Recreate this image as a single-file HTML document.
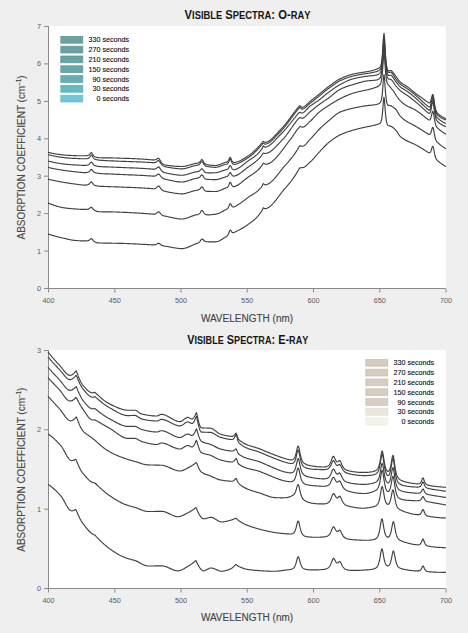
<!DOCTYPE html><html><head><meta charset="utf-8"><style>html,body{margin:0;padding:0;background:#efefef;width:468px;height:633px;overflow:hidden}svg{display:block}text{font-family:"Liberation Sans",sans-serif}</style></head><body>
<svg width="468" height="633" viewBox="0 0 468 633">
<rect width="468" height="633" fill="#efefef"/>
<rect x="48.5" y="26" width="397.5" height="262" fill="#fff"/>
<path d="M48.5,26 V288.5 H445.5" fill="none" stroke="#8a8a8a" stroke-width="1"/>
<path d="M44,288.5 H48.5" stroke="#8a8a8a" stroke-width="1"/>
<text x="41" y="291.0" font-size="7.3" fill="#5a5a5a" text-anchor="end">0</text>
<path d="M44,251.1 H48.5" stroke="#8a8a8a" stroke-width="1"/>
<text x="41" y="253.6" font-size="7.3" fill="#5a5a5a" text-anchor="end">1</text>
<path d="M44,213.6 H48.5" stroke="#8a8a8a" stroke-width="1"/>
<text x="41" y="216.1" font-size="7.3" fill="#5a5a5a" text-anchor="end">2</text>
<path d="M44,176.2 H48.5" stroke="#8a8a8a" stroke-width="1"/>
<text x="41" y="178.7" font-size="7.3" fill="#5a5a5a" text-anchor="end">3</text>
<path d="M44,138.8 H48.5" stroke="#8a8a8a" stroke-width="1"/>
<text x="41" y="141.3" font-size="7.3" fill="#5a5a5a" text-anchor="end">4</text>
<path d="M44,101.4 H48.5" stroke="#8a8a8a" stroke-width="1"/>
<text x="41" y="103.9" font-size="7.3" fill="#5a5a5a" text-anchor="end">5</text>
<path d="M44,63.9 H48.5" stroke="#8a8a8a" stroke-width="1"/>
<text x="41" y="66.4" font-size="7.3" fill="#5a5a5a" text-anchor="end">6</text>
<path d="M44,26.5 H48.5" stroke="#8a8a8a" stroke-width="1"/>
<text x="41" y="29.0" font-size="7.3" fill="#5a5a5a" text-anchor="end">7</text>
<path d="M48.5,288.5 V292.5" stroke="#8a8a8a" stroke-width="1"/>
<text x="48.5" y="302.5" font-size="7.3" fill="#5a5a5a" text-anchor="middle">400</text>
<path d="M114.8,288.5 V292.5" stroke="#8a8a8a" stroke-width="1"/>
<text x="114.8" y="302.5" font-size="7.3" fill="#5a5a5a" text-anchor="middle">450</text>
<path d="M181.0,288.5 V292.5" stroke="#8a8a8a" stroke-width="1"/>
<text x="181.0" y="302.5" font-size="7.3" fill="#5a5a5a" text-anchor="middle">500</text>
<path d="M247.2,288.5 V292.5" stroke="#8a8a8a" stroke-width="1"/>
<text x="247.2" y="302.5" font-size="7.3" fill="#5a5a5a" text-anchor="middle">550</text>
<path d="M313.5,288.5 V292.5" stroke="#8a8a8a" stroke-width="1"/>
<text x="313.5" y="302.5" font-size="7.3" fill="#5a5a5a" text-anchor="middle">600</text>
<path d="M379.8,288.5 V292.5" stroke="#8a8a8a" stroke-width="1"/>
<text x="379.8" y="302.5" font-size="7.3" fill="#5a5a5a" text-anchor="middle">650</text>
<path d="M446.0,288.5 V292.5" stroke="#8a8a8a" stroke-width="1"/>
<text x="446.0" y="302.5" font-size="7.3" fill="#5a5a5a" text-anchor="middle">700</text>
<rect x="60.8" y="36.4" width="22" height="6.8" fill="#6ba1a1" stroke="#5e9292" stroke-width="0.7"/>
<text x="129.2" y="42.4" font-size="7.2" fill="#111" stroke="#111" stroke-width="0.12" text-anchor="end">330 seconds</text>
<rect x="60.8" y="46.2" width="22" height="6.8" fill="#6aa2a3" stroke="#5d9494" stroke-width="0.7"/>
<text x="129.2" y="52.2" font-size="7.2" fill="#111" stroke="#111" stroke-width="0.12" text-anchor="end">270 seconds</text>
<rect x="60.8" y="56.0" width="22" height="6.8" fill="#68a4a5" stroke="#5b9697" stroke-width="0.7"/>
<text x="129.2" y="62.0" font-size="7.2" fill="#111" stroke="#111" stroke-width="0.12" text-anchor="end">210 seconds</text>
<rect x="60.8" y="65.8" width="22" height="6.8" fill="#66a7a9" stroke="#599a9b" stroke-width="0.7"/>
<text x="129.2" y="71.8" font-size="7.2" fill="#111" stroke="#111" stroke-width="0.12" text-anchor="end">150 seconds</text>
<rect x="60.8" y="75.6" width="22" height="6.8" fill="#65aeb3" stroke="#58a0a5" stroke-width="0.7"/>
<text x="129.2" y="81.6" font-size="7.2" fill="#111" stroke="#111" stroke-width="0.12" text-anchor="end">90 seconds</text>
<rect x="60.8" y="85.4" width="22" height="6.8" fill="#67b9c2" stroke="#5aabb3" stroke-width="0.7"/>
<text x="129.2" y="91.4" font-size="7.2" fill="#111" stroke="#111" stroke-width="0.12" text-anchor="end">30 seconds</text>
<rect x="60.8" y="95.2" width="22" height="6.8" fill="#6ec8d8" stroke="#62bac9" stroke-width="0.7"/>
<text x="129.2" y="101.2" font-size="7.2" fill="#111" stroke="#111" stroke-width="0.12" text-anchor="end">0 seconds</text>
<rect x="48.5" y="350" width="397.5" height="238" fill="#fff"/>
<path d="M48.5,350 V588.5 H445.5" fill="none" stroke="#8a8a8a" stroke-width="1"/>
<path d="M44,588.5 H48.5" stroke="#8a8a8a" stroke-width="1"/>
<text x="41" y="591.0" font-size="7.3" fill="#5a5a5a" text-anchor="end">0</text>
<path d="M44,509.2 H48.5" stroke="#8a8a8a" stroke-width="1"/>
<text x="41" y="511.7" font-size="7.3" fill="#5a5a5a" text-anchor="end">1</text>
<path d="M44,429.8 H48.5" stroke="#8a8a8a" stroke-width="1"/>
<text x="41" y="432.3" font-size="7.3" fill="#5a5a5a" text-anchor="end">2</text>
<path d="M44,350.5 H48.5" stroke="#8a8a8a" stroke-width="1"/>
<text x="41" y="353.0" font-size="7.3" fill="#5a5a5a" text-anchor="end">3</text>
<path d="M48.5,588.5 V592.5" stroke="#8a8a8a" stroke-width="1"/>
<text x="48.5" y="602.5" font-size="7.3" fill="#5a5a5a" text-anchor="middle">400</text>
<path d="M114.8,588.5 V592.5" stroke="#8a8a8a" stroke-width="1"/>
<text x="114.8" y="602.5" font-size="7.3" fill="#5a5a5a" text-anchor="middle">450</text>
<path d="M181.0,588.5 V592.5" stroke="#8a8a8a" stroke-width="1"/>
<text x="181.0" y="602.5" font-size="7.3" fill="#5a5a5a" text-anchor="middle">500</text>
<path d="M247.2,588.5 V592.5" stroke="#8a8a8a" stroke-width="1"/>
<text x="247.2" y="602.5" font-size="7.3" fill="#5a5a5a" text-anchor="middle">550</text>
<path d="M313.5,588.5 V592.5" stroke="#8a8a8a" stroke-width="1"/>
<text x="313.5" y="602.5" font-size="7.3" fill="#5a5a5a" text-anchor="middle">600</text>
<path d="M379.8,588.5 V592.5" stroke="#8a8a8a" stroke-width="1"/>
<text x="379.8" y="602.5" font-size="7.3" fill="#5a5a5a" text-anchor="middle">650</text>
<path d="M446.0,588.5 V592.5" stroke="#8a8a8a" stroke-width="1"/>
<text x="446.0" y="602.5" font-size="7.3" fill="#5a5a5a" text-anchor="middle">700</text>
<rect x="365.8" y="359.4" width="22" height="6.8" fill="#d6cbbf" stroke="#cabdb1" stroke-width="0.7"/>
<text x="434.2" y="365.4" font-size="7.2" fill="#111" stroke="#111" stroke-width="0.12" text-anchor="end">330 seconds</text>
<rect x="365.8" y="369.2" width="22" height="6.8" fill="#d6cbbf" stroke="#cabdb1" stroke-width="0.7"/>
<text x="434.2" y="375.2" font-size="7.2" fill="#111" stroke="#111" stroke-width="0.12" text-anchor="end">270 seconds</text>
<rect x="365.8" y="379.0" width="22" height="6.8" fill="#d7ccc0" stroke="#cbbfb3" stroke-width="0.7"/>
<text x="434.2" y="385.0" font-size="7.2" fill="#111" stroke="#111" stroke-width="0.12" text-anchor="end">210 seconds</text>
<rect x="365.8" y="388.8" width="22" height="6.8" fill="#d8cdc1" stroke="#ccc0b4" stroke-width="0.7"/>
<text x="434.2" y="394.8" font-size="7.2" fill="#111" stroke="#111" stroke-width="0.12" text-anchor="end">150 seconds</text>
<rect x="365.8" y="398.6" width="22" height="6.8" fill="#d9cec2" stroke="#cdc1b5" stroke-width="0.7"/>
<text x="434.2" y="404.6" font-size="7.2" fill="#111" stroke="#111" stroke-width="0.12" text-anchor="end">90 seconds</text>
<rect x="365.8" y="408.4" width="22" height="6.8" fill="#ebe7dc" stroke="#e0dccf" stroke-width="0.7"/>
<text x="434.2" y="414.4" font-size="7.2" fill="#111" stroke="#111" stroke-width="0.12" text-anchor="end">30 seconds</text>
<rect x="365.8" y="418.2" width="22" height="6.8" fill="#f4f4ea" stroke="#ebebdf" stroke-width="0.7"/>
<text x="434.2" y="424.2" font-size="7.2" fill="#111" stroke="#111" stroke-width="0.12" text-anchor="end">0 seconds</text>
<text transform="translate(184.6,19.3) scale(0.8985,1)" x="0" y="0" font-weight="bold" fill="#151515"><tspan font-size="12.5">V</tspan><tspan font-size="10.4">I</tspan><tspan font-size="10.4">S</tspan><tspan font-size="10.4">I</tspan><tspan font-size="10.4">B</tspan><tspan font-size="10.4">L</tspan><tspan font-size="10.4">E</tspan><tspan font-size="12.5"> </tspan><tspan font-size="12.5">S</tspan><tspan font-size="10.4">P</tspan><tspan font-size="10.4">E</tspan><tspan font-size="10.4">C</tspan><tspan font-size="10.4">T</tspan><tspan font-size="10.4">R</tspan><tspan font-size="10.4">A</tspan><tspan font-size="12.5">:</tspan><tspan font-size="12.5"> </tspan><tspan font-size="12.5">O</tspan><tspan font-size="12.5">-</tspan><tspan font-size="10.4">R</tspan><tspan font-size="10.4">A</tspan><tspan font-size="10.4">Y</tspan></text>
<text transform="translate(187.2,343.5) scale(0.8741,1)" x="0" y="0" font-weight="bold" fill="#151515"><tspan font-size="12.5">V</tspan><tspan font-size="10.4">I</tspan><tspan font-size="10.4">S</tspan><tspan font-size="10.4">I</tspan><tspan font-size="10.4">B</tspan><tspan font-size="10.4">L</tspan><tspan font-size="10.4">E</tspan><tspan font-size="12.5"> </tspan><tspan font-size="12.5">S</tspan><tspan font-size="10.4">P</tspan><tspan font-size="10.4">E</tspan><tspan font-size="10.4">C</tspan><tspan font-size="10.4">T</tspan><tspan font-size="10.4">R</tspan><tspan font-size="10.4">A</tspan><tspan font-size="12.5">:</tspan><tspan font-size="12.5"> </tspan><tspan font-size="12.5">E</tspan><tspan font-size="12.5">-</tspan><tspan font-size="10.4">R</tspan><tspan font-size="10.4">A</tspan><tspan font-size="10.4">Y</tspan></text>
<text transform="translate(25,157.5) rotate(-90)" font-size="10" fill="#4a4a4a" stroke="#4a4a4a" stroke-width="0.12" text-anchor="middle" textLength="164" lengthAdjust="spacing">ABSORPTION COEFFICIENT (cm<tspan font-size="6.3" dy="-3.6">–1</tspan><tspan dy="3.6">)</tspan></text>
<text transform="translate(25,469.7) rotate(-90)" font-size="10" fill="#4a4a4a" stroke="#4a4a4a" stroke-width="0.12" text-anchor="middle" textLength="164" lengthAdjust="spacing">ABSORPTION COEFFICIENT (cm<tspan font-size="6.3" dy="-3.6">–1</tspan><tspan dy="3.6">)</tspan></text>
<text x="247" y="322" font-size="10" fill="#444" stroke="#444" stroke-width="0.12" text-anchor="middle">WAVELENGTH (nm)</text>
<text x="247" y="621" font-size="10" fill="#444" stroke="#444" stroke-width="0.12" text-anchor="middle">WAVELENGTH (nm)</text>
<g fill="none" stroke="#404040" stroke-width="1.15" stroke-linejoin="round">
<path d="M48.0,152.3L48.5,152.4L49,152.5L49.5,152.6L50,152.8L50.5,152.9L51,153.0L51.5,153.1L52,153.2L52.5,153.3L53,153.4L53.5,153.5L54,153.6L54.5,153.7L55,153.8L55.5,153.9L56,154.0L56.5,154.0L57,154.1L57.5,154.2L58,154.3L58.5,154.4L59,154.4L59.5,154.5L60,154.6L60.5,154.6L61,154.7L61.5,154.8L62,154.8L62.5,154.9L63,154.9L63.5,155.0L64,155.0L64.5,155.0L65,155.1L65.5,155.1L66,155.2L66.5,155.2L67,155.2L67.5,155.3L68,155.3L68.5,155.3L69,155.4L69.5,155.4L70,155.4L70.5,155.4L71,155.5L71.5,155.5L72,155.5L72.5,155.5L73,155.5L73.5,155.6L74,155.6L74.5,155.6L75,155.6L75.5,155.6L76,155.6L76.5,155.6L77,155.7L77.5,155.7L78,155.7L78.5,155.7L79,155.7L79.5,155.7L80,155.7L80.5,155.7L81,155.7L81.5,155.7L82,155.7L82.5,155.7L83,155.7L83.5,155.7L84,155.7L84.5,155.7L85,155.7L85.5,155.7L86,155.7L86.5,155.6L87,155.6L87.5,155.5L88,155.4L88.5,155.2L89,154.9L89.5,154.5L90,153.9L90.5,153.2L91,152.8L91.5,152.7L92,153.2L92.5,154.0L93,154.8L93.5,155.6L94,156.1L94.5,156.5L95,156.8L95.5,157.0L96,157.2L96.5,157.3L97,157.4L97.5,157.5L98,157.6L98.5,157.6L99,157.7L99.5,157.7L100,157.7L100.5,157.7L101,157.7L101.5,157.8L102,157.8L102.5,157.8L103,157.8L103.5,157.8L104,157.8L104.5,157.8L105,157.8L105.5,157.8L106,157.9L106.5,157.9L107,157.9L107.5,157.9L108,157.9L108.5,157.9L109,157.9L109.5,157.9L110,157.9L110.5,157.9L111,157.9L111.5,157.9L112,157.9L112.5,157.9L113,158.0L113.5,158.0L114,158.0L114.5,158.0L115,158.0L115.5,158.0L116,158.0L116.5,158.0L117,158.1L117.5,158.1L118,158.1L118.5,158.1L119,158.1L119.5,158.1L120,158.1L120.5,158.2L121,158.2L121.5,158.2L122,158.2L122.5,158.2L123,158.2L123.5,158.2L124,158.3L124.5,158.3L125,158.3L125.5,158.3L126,158.3L126.5,158.3L127,158.3L127.5,158.4L128,158.4L128.5,158.4L129,158.4L129.5,158.4L130,158.5L130.5,158.5L131,158.5L131.5,158.5L132,158.5L132.5,158.6L133,158.6L133.5,158.6L134,158.6L134.5,158.6L135,158.7L135.5,158.7L136,158.7L136.5,158.7L137,158.8L137.5,158.8L138,158.8L138.5,158.8L139,158.9L139.5,158.9L140,158.9L140.5,159.0L141,159.0L141.5,159.0L142,159.1L142.5,159.1L143,159.1L143.5,159.2L144,159.2L144.5,159.2L145,159.3L145.5,159.3L146,159.3L146.5,159.4L147,159.4L147.5,159.5L148,159.5L148.5,159.5L149,159.6L149.5,159.6L150,159.7L150.5,159.7L151,159.7L151.5,159.8L152,159.8L152.5,159.9L153,159.9L153.5,159.9L154,159.9L154.5,159.9L155,159.8L155.5,159.7L156,159.5L156.5,159.2L157,158.9L157.5,158.6L158,158.3L158.5,158.3L159,158.6L159.5,159.2L160,160.0L160.5,160.9L161,161.7L161.5,162.5L162,163.1L162.5,163.6L163,164.0L163.5,164.3L164,164.6L164.5,164.8L165,164.9L165.5,165.0L166,165.1L166.5,165.2L167,165.3L167.5,165.4L168,165.4L168.5,165.5L169,165.6L169.5,165.6L170,165.7L170.5,165.8L171,165.8L171.5,165.9L172,165.9L172.5,166.0L173,166.0L173.5,166.1L174,166.1L174.5,166.2L175,166.2L175.5,166.3L176,166.3L176.5,166.3L177,166.4L177.5,166.4L178,166.4L178.5,166.4L179,166.4L179.5,166.5L180,166.5L180.5,166.5L181,166.5L181.5,166.5L182,166.5L182.5,166.5L183,166.5L183.5,166.4L184,166.4L184.5,166.3L185,166.2L185.5,166.1L186,166.0L186.5,165.9L187,165.8L187.5,165.6L188,165.5L188.5,165.3L189,165.2L189.5,165.0L190,164.9L190.5,164.7L191,164.6L191.5,164.4L192,164.3L192.5,164.2L193,164.0L193.5,163.9L194,163.8L194.5,163.7L195,163.5L195.5,163.4L196,163.4L196.5,163.3L197,163.2L197.5,163.1L198,163.0L198.5,162.8L199,162.6L199.5,162.2L200,161.6L200.5,161.0L201,160.3L201.5,159.7L202,159.6L202.5,160.0L203,160.7L203.5,161.7L204,162.5L204.5,163.2L205,163.8L205.5,164.1L206,164.4L206.5,164.5L207,164.7L207.5,164.8L208,164.8L208.5,164.9L209,165.0L209.5,165.1L210,165.1L210.5,165.2L211,165.2L211.5,165.3L212,165.3L212.5,165.4L213,165.4L213.5,165.4L214,165.5L214.5,165.5L215,165.5L215.5,165.5L216,165.5L216.5,165.4L217,165.4L217.5,165.3L218,165.1L218.5,165.0L219,164.8L219.5,164.6L220,164.5L220.5,164.2L221,164.0L221.5,163.8L222,163.6L222.5,163.4L223,163.2L223.5,163.0L224,162.8L224.5,162.7L225,162.5L225.5,162.4L226,162.3L226.5,162.1L227,162.0L227.5,161.7L228,161.3L228.5,160.5L229,159.3L229.5,158.2L230,157.4L230.5,157.5L231,158.5L231.5,159.8L232,161.0L232.5,161.7L233,162.2L233.5,162.4L234,162.5L234.5,162.5L235,162.5L235.5,162.4L236,162.3L236.5,162.1L237,162.0L237.5,161.8L238,161.7L238.5,161.5L239,161.2L239.5,161.0L240,160.8L240.5,160.5L241,160.3L241.5,160.0L242,159.7L242.5,159.4L243,159.1L243.5,158.8L244,158.5L244.5,158.2L245,157.9L245.5,157.6L246,157.2L246.5,156.9L247,156.6L247.5,156.3L248,156.0L248.5,155.7L249,155.4L249.5,155.0L250,154.6L250.5,154.3L251,153.9L251.5,153.5L252,153.1L252.5,152.6L253,152.2L253.5,151.7L254,151.3L254.5,150.8L255,150.3L255.5,149.8L256,149.3L256.5,148.8L257,148.3L257.5,147.8L258,147.2L258.5,146.7L259,146.2L259.5,145.6L260,145.1L260.5,144.5L261,143.9L261.5,143.4L262,142.8L262.5,142.1L263,141.5L263.5,141.4L264,141.8L264.5,142.2L265,142.3L265.5,142.3L266,142.2L266.5,142.1L267,141.9L267.5,141.7L268,141.5L268.5,141.2L269,140.9L269.5,140.6L270,140.3L270.5,139.9L271,139.5L271.5,139.0L272,138.6L272.5,138.1L273,137.6L273.5,137.1L274,136.6L274.5,136.0L275,135.5L275.5,135.0L276,134.4L276.5,133.9L277,133.3L277.5,132.8L278,132.3L278.5,131.7L279,131.2L279.5,130.7L280,130.2L280.5,129.7L281,129.2L281.5,128.7L282,128.1L282.5,127.6L283,127.0L283.5,126.4L284,125.8L284.5,125.2L285,124.6L285.5,124.0L286,123.4L286.5,122.7L287,122.1L287.5,121.4L288,120.8L288.5,120.1L289,119.4L289.5,118.8L290,118.1L290.5,117.4L291,116.7L291.5,116.1L292,115.4L292.5,114.7L293,114.0L293.5,113.4L294,112.7L294.5,112.0L295,111.4L295.5,110.7L296,110.1L296.5,109.4L297,108.8L297.5,108.2L298,107.5L298.5,106.9L299,106.3L299.5,105.7L300,105.7L300.5,106.3L301,106.7L301.5,107.1L302,107.3L302.5,107.3L303,107.2L303.5,107.0L304,106.8L304.5,106.5L305,106.1L305.5,105.7L306,105.2L306.5,104.8L307,104.3L307.5,103.8L308,103.3L308.5,102.8L309,102.3L309.5,101.9L310,101.5L310.5,101.1L311,100.7L311.5,100.3L312,99.9L312.5,99.5L313,99.1L313.5,98.7L314,98.3L314.5,97.9L315,97.5L315.5,97.1L316,96.7L316.5,96.3L317,95.9L317.5,95.5L318,95.1L318.5,94.7L319,94.3L319.5,93.9L320,93.5L320.5,93.1L321,92.7L321.5,92.3L322,91.9L322.5,91.5L323,91.0L323.5,90.6L324,90.2L324.5,89.8L325,89.4L325.5,89.0L326,88.6L326.5,88.2L327,87.8L327.5,87.4L328,87.0L328.5,86.7L329,86.3L329.5,85.9L330,85.6L330.5,85.2L331,84.8L331.5,84.5L332,84.1L332.5,83.7L333,83.3L333.5,83.0L334,82.6L334.5,82.3L335,81.9L335.5,81.6L336,81.2L336.5,80.9L337,80.6L337.5,80.3L338,80.0L338.5,79.7L339,79.4L339.5,79.1L340,78.9L340.5,78.7L341,78.4L341.5,78.2L342,78.0L342.5,77.8L343,77.5L343.5,77.3L344,77.1L344.5,76.9L345,76.7L345.5,76.5L346,76.3L346.5,76.1L347,76.0L347.5,75.8L348,75.6L348.5,75.4L349,75.3L349.5,75.1L350,75.0L350.5,74.8L351,74.7L351.5,74.5L352,74.4L352.5,74.3L353,74.1L353.5,74.0L354,73.9L354.5,73.8L355,73.7L355.5,73.6L356,73.5L356.5,73.4L357,73.3L357.5,73.2L358,73.1L358.5,73.0L359,72.9L359.5,72.9L360,72.8L360.5,72.7L361,72.6L361.5,72.5L362,72.4L362.5,72.4L363,72.3L363.5,72.2L364,72.1L364.5,72.1L365,72.0L365.5,71.9L366,71.8L366.5,71.7L367,71.6L367.5,71.6L368,71.5L368.5,71.4L369,71.3L369.5,71.2L370,71.1L370.5,71.0L371,70.9L371.5,70.7L372,70.6L372.5,70.5L373,70.3L373.5,70.2L374,70.0L374.5,69.9L375,69.7L375.5,69.5L376,69.4L376.5,69.2L377,69.0L377.5,68.8L378,68.6L378.5,68.4L379,68.1L379.5,67.7L380,67.2L380.5,66.5L381,65.2L381.5,63.0L382,59.3L382.5,53.5L383,45.6L383.5,37.2L384,33.3L384.5,37.7L385,46.6L385.5,55.0L386,61.2L386.5,65.3L387,67.8L387.5,69.4L388,70.4L388.5,70.9L389,71.0L389.5,70.8L390,70.6L390.5,70.5L391,70.6L391.5,70.9L392,71.3L392.5,71.8L393,72.4L393.5,73.1L394,73.8L394.5,74.5L395,75.2L395.5,75.9L396,76.5L396.5,77.1L397,77.8L397.5,78.5L398,79.2L398.5,80.0L399,80.6L399.5,81.3L400,81.8L400.5,82.3L401,82.7L401.5,83.1L402,83.4L402.5,83.8L403,84.1L403.5,84.4L404,84.7L404.5,85.0L405,85.3L405.5,85.6L406,85.9L406.5,86.2L407,86.5L407.5,86.9L408,87.2L408.5,87.6L409,88.0L409.5,88.4L410,88.8L410.5,89.2L411,89.6L411.5,90.0L412,90.4L412.5,90.8L413,91.3L413.5,91.7L414,92.1L414.5,92.5L415,92.9L415.5,93.3L416,93.7L416.5,94.1L417,94.5L417.5,94.8L418,95.2L418.5,95.6L419,95.9L419.5,96.3L420,96.6L420.5,97.0L421,97.3L421.5,97.7L422,98.0L422.5,98.4L423,98.7L423.5,99.1L424,99.4L424.5,99.8L425,100.2L425.5,100.5L426,100.9L426.5,101.2L427,101.6L427.5,102.0L428,102.3L428.5,102.6L429,102.9L429.5,102.9L430,102.6L430.5,101.8L431,100.3L431.5,98.3L432,96.1L432.5,94.5L433,94.6L433.5,96.7L434,100.0L434.5,103.6L435,106.7L435.5,109.0L436,110.6L436.5,111.7L437,112.4L437.5,113.0L438,113.6L438.5,114.0L439,114.5L439.5,114.9L440,115.3L440.5,115.7L441,116.0L441.5,116.4L442,116.7L442.5,117.0L443,117.3L443.5,117.6L444,117.8L444.5,118.0L445,118.2L445.5,118.4L446,118.5"/>
<path d="M48.0,154.6L48.5,154.7L49,154.9L49.5,155.0L50,155.1L50.5,155.2L51,155.3L51.5,155.4L52,155.6L52.5,155.7L53,155.8L53.5,155.9L54,156.0L54.5,156.1L55,156.2L55.5,156.3L56,156.4L56.5,156.5L57,156.6L57.5,156.7L58,156.8L58.5,156.8L59,156.9L59.5,157.0L60,157.1L60.5,157.2L61,157.2L61.5,157.3L62,157.4L62.5,157.4L63,157.5L63.5,157.5L64,157.6L64.5,157.7L65,157.7L65.5,157.8L66,157.8L66.5,157.8L67,157.9L67.5,157.9L68,158.0L68.5,158.0L69,158.1L69.5,158.1L70,158.1L70.5,158.2L71,158.2L71.5,158.2L72,158.3L72.5,158.3L73,158.3L73.5,158.3L74,158.4L74.5,158.4L75,158.4L75.5,158.4L76,158.5L76.5,158.5L77,158.5L77.5,158.5L78,158.6L78.5,158.6L79,158.6L79.5,158.6L80,158.6L80.5,158.7L81,158.7L81.5,158.7L82,158.7L82.5,158.7L83,158.7L83.5,158.7L84,158.7L84.5,158.7L85,158.7L85.5,158.7L86,158.7L86.5,158.7L87,158.6L87.5,158.5L88,158.4L88.5,158.2L89,157.8L89.5,157.3L90,156.6L90.5,155.8L91,155.2L91.5,155.1L92,155.6L92.5,156.4L93,157.3L93.5,158.0L94,158.6L94.5,159.0L95,159.2L95.5,159.4L96,159.5L96.5,159.7L97,159.8L97.5,159.9L98,160.0L98.5,160.1L99,160.1L99.5,160.2L100,160.2L100.5,160.3L101,160.3L101.5,160.3L102,160.4L102.5,160.4L103,160.4L103.5,160.5L104,160.5L104.5,160.5L105,160.5L105.5,160.6L106,160.6L106.5,160.6L107,160.6L107.5,160.7L108,160.7L108.5,160.7L109,160.7L109.5,160.8L110,160.8L110.5,160.8L111,160.8L111.5,160.8L112,160.9L112.5,160.9L113,160.9L113.5,160.9L114,160.9L114.5,161.0L115,161.0L115.5,161.0L116,161.1L116.5,161.1L117,161.1L117.5,161.1L118,161.1L118.5,161.2L119,161.2L119.5,161.2L120,161.2L120.5,161.2L121,161.3L121.5,161.3L122,161.3L122.5,161.3L123,161.3L123.5,161.4L124,161.4L124.5,161.4L125,161.4L125.5,161.4L126,161.4L126.5,161.5L127,161.5L127.5,161.5L128,161.5L128.5,161.5L129,161.5L129.5,161.6L130,161.6L130.5,161.6L131,161.6L131.5,161.6L132,161.6L132.5,161.6L133,161.7L133.5,161.7L134,161.7L134.5,161.7L135,161.7L135.5,161.7L136,161.8L136.5,161.8L137,161.8L137.5,161.8L138,161.8L138.5,161.9L139,161.9L139.5,161.9L140,161.9L140.5,161.9L141,162.0L141.5,162.0L142,162.0L142.5,162.0L143,162.1L143.5,162.1L144,162.1L144.5,162.1L145,162.2L145.5,162.2L146,162.2L146.5,162.2L147,162.3L147.5,162.3L148,162.3L148.5,162.4L149,162.4L149.5,162.4L150,162.5L150.5,162.5L151,162.5L151.5,162.6L152,162.6L152.5,162.6L153,162.6L153.5,162.6L154,162.6L154.5,162.6L155,162.5L155.5,162.3L156,162.1L156.5,161.8L157,161.4L157.5,161.0L158,160.6L158.5,160.5L159,160.8L159.5,161.3L160,162.1L160.5,162.9L161,163.7L161.5,164.4L162,165.0L162.5,165.4L163,165.8L163.5,166.1L164,166.3L164.5,166.5L165,166.6L165.5,166.7L166,166.9L166.5,167.0L167,167.1L167.5,167.2L168,167.3L168.5,167.3L169,167.4L169.5,167.5L170,167.6L170.5,167.7L171,167.8L171.5,167.9L172,167.9L172.5,168.0L173,168.1L173.5,168.2L174,168.2L174.5,168.3L175,168.4L175.5,168.4L176,168.5L176.5,168.5L177,168.6L177.5,168.6L178,168.6L178.5,168.7L179,168.7L179.5,168.7L180,168.8L180.5,168.8L181,168.8L181.5,168.8L182,168.8L182.5,168.8L183,168.8L183.5,168.7L184,168.6L184.5,168.6L185,168.5L185.5,168.4L186,168.3L186.5,168.1L187,168.0L187.5,167.8L188,167.7L188.5,167.5L189,167.4L189.5,167.2L190,167.0L190.5,166.9L191,166.7L191.5,166.6L192,166.4L192.5,166.2L193,166.1L193.5,166.0L194,165.8L194.5,165.7L195,165.6L195.5,165.5L196,165.4L196.5,165.3L197,165.2L197.5,165.1L198,165.0L198.5,164.8L199,164.6L199.5,164.2L200,163.6L200.5,162.9L201,162.2L201.5,161.7L202,161.5L202.5,161.9L203,162.6L203.5,163.5L204,164.4L204.5,165.1L205,165.6L205.5,165.9L206,166.2L206.5,166.3L207,166.5L207.5,166.5L208,166.6L208.5,166.7L209,166.8L209.5,166.8L210,166.9L210.5,167.0L211,167.0L211.5,167.1L212,167.1L212.5,167.2L213,167.2L213.5,167.2L214,167.3L214.5,167.3L215,167.3L215.5,167.3L216,167.3L216.5,167.2L217,167.2L217.5,167.1L218,167.0L218.5,166.8L219,166.7L219.5,166.5L220,166.3L220.5,166.1L221,165.9L221.5,165.7L222,165.5L222.5,165.3L223,165.2L223.5,165.0L224,164.8L224.5,164.7L225,164.5L225.5,164.4L226,164.3L226.5,164.2L227,164.0L227.5,163.7L228,163.2L228.5,162.4L229,161.2L229.5,159.9L230,159.1L230.5,159.2L231,160.2L231.5,161.6L232,162.7L232.5,163.5L233,164.0L233.5,164.2L234,164.3L234.5,164.3L235,164.3L235.5,164.2L236,164.1L236.5,164.0L237,163.8L237.5,163.7L238,163.5L238.5,163.3L239,163.1L239.5,162.8L240,162.6L240.5,162.3L241,162.1L241.5,161.8L242,161.5L242.5,161.2L243,160.9L243.5,160.6L244,160.3L244.5,160.0L245,159.7L245.5,159.4L246,159.1L246.5,158.7L247,158.4L247.5,158.1L248,157.8L248.5,157.5L249,157.2L249.5,156.8L250,156.4L250.5,156.1L251,155.7L251.5,155.3L252,154.9L252.5,154.4L253,154.0L253.5,153.5L254,153.1L254.5,152.6L255,152.1L255.5,151.6L256,151.1L256.5,150.6L257,150.1L257.5,149.6L258,149.0L258.5,148.5L259,148.0L259.5,147.4L260,146.9L260.5,146.3L261,145.7L261.5,145.2L262,144.6L262.5,143.9L263,143.3L263.5,143.2L264,143.6L264.5,144.0L265,144.1L265.5,144.1L266,144.0L266.5,143.9L267,143.7L267.5,143.5L268,143.3L268.5,143.0L269,142.7L269.5,142.4L270,142.1L270.5,141.7L271,141.3L271.5,140.8L272,140.4L272.5,139.9L273,139.4L273.5,138.9L274,138.4L274.5,137.8L275,137.3L275.5,136.8L276,136.2L276.5,135.7L277,135.1L277.5,134.6L278,134.1L278.5,133.5L279,133.0L279.5,132.5L280,132.0L280.5,131.5L281,131.0L281.5,130.5L282,129.9L282.5,129.4L283,128.8L283.5,128.2L284,127.6L284.5,127.0L285,126.4L285.5,125.8L286,125.2L286.5,124.5L287,123.9L287.5,123.2L288,122.6L288.5,121.9L289,121.2L289.5,120.6L290,119.9L290.5,119.2L291,118.5L291.5,117.9L292,117.2L292.5,116.5L293,115.8L293.5,115.2L294,114.5L294.5,113.8L295,113.2L295.5,112.5L296,111.9L296.5,111.2L297,110.6L297.5,110.0L298,109.3L298.5,108.7L299,108.1L299.5,107.5L300,107.5L300.5,108.1L301,108.5L301.5,108.9L302,109.1L302.5,109.1L303,109.0L303.5,108.8L304,108.6L304.5,108.3L305,107.9L305.5,107.5L306,107.1L306.5,106.6L307,106.1L307.5,105.7L308,105.2L308.5,104.7L309,104.2L309.5,103.8L310,103.4L310.5,103.0L311,102.6L311.5,102.2L312,101.8L312.5,101.5L313,101.1L313.5,100.7L314,100.3L314.5,99.8L315,99.4L315.5,99.0L316,98.6L316.5,98.2L317,97.8L317.5,97.4L318,97.0L318.5,96.6L319,96.2L319.5,95.8L320,95.4L320.5,95.0L321,94.6L321.5,94.2L322,93.8L322.5,93.4L323,92.9L323.5,92.5L324,92.1L324.5,91.7L325,91.3L325.5,90.9L326,90.5L326.5,90.1L327,89.7L327.5,89.3L328,88.9L328.5,88.6L329,88.2L329.5,87.8L330,87.5L330.5,87.1L331,86.7L331.5,86.4L332,86.0L332.5,85.6L333,85.2L333.5,84.9L334,84.5L334.5,84.2L335,83.8L335.5,83.5L336,83.1L336.5,82.8L337,82.5L337.5,82.2L338,81.9L338.5,81.6L339,81.3L339.5,81.0L340,80.8L340.5,80.6L341,80.3L341.5,80.1L342,79.9L342.5,79.7L343,79.4L343.5,79.2L344,79.0L344.5,78.8L345,78.6L345.5,78.4L346,78.2L346.5,78.0L347,77.9L347.5,77.7L348,77.5L348.5,77.3L349,77.2L349.5,77.0L350,76.9L350.5,76.7L351,76.6L351.5,76.4L352,76.3L352.5,76.2L353,76.0L353.5,75.9L354,75.8L354.5,75.7L355,75.6L355.5,75.5L356,75.4L356.5,75.3L357,75.2L357.5,75.1L358,75.0L358.5,74.9L359,74.8L359.5,74.7L360,74.6L360.5,74.5L361,74.4L361.5,74.3L362,74.3L362.5,74.2L363,74.1L363.5,74.0L364,73.9L364.5,73.9L365,73.8L365.5,73.7L366,73.6L366.5,73.5L367,73.5L367.5,73.4L368,73.3L368.5,73.2L369,73.2L369.5,73.1L370,73.0L370.5,72.9L371,72.8L371.5,72.7L372,72.6L372.5,72.5L373,72.4L373.5,72.3L374,72.2L374.5,72.1L375,72.0L375.5,71.8L376,71.7L376.5,71.6L377,71.4L377.5,71.2L378,71.0L378.5,70.8L379,70.5L379.5,70.1L380,69.6L380.5,68.8L381,67.5L381.5,65.3L382,61.6L382.5,55.9L383,48.1L383.5,39.9L384,36.0L384.5,40.2L385,48.8L385.5,57.0L386,63.0L386.5,67.0L387,69.4L387.5,70.9L388,71.9L388.5,72.4L389,72.5L389.5,72.4L390,72.2L390.5,72.2L391,72.3L391.5,72.6L392,73.1L392.5,73.7L393,74.4L393.5,75.2L394,76.0L394.5,76.8L395,77.6L395.5,78.3L396,79.0L396.5,79.6L397,80.3L397.5,80.9L398,81.6L398.5,82.2L399,82.8L399.5,83.3L400,83.8L400.5,84.3L401,84.7L401.5,85.0L402,85.4L402.5,85.7L403,86.1L403.5,86.4L404,86.7L404.5,87.0L405,87.3L405.5,87.6L406,87.9L406.5,88.2L407,88.5L407.5,88.9L408,89.2L408.5,89.6L409,90.0L409.5,90.4L410,90.7L410.5,91.1L411,91.5L411.5,91.9L412,92.3L412.5,92.7L413,93.1L413.5,93.5L414,93.9L414.5,94.3L415,94.8L415.5,95.2L416,95.6L416.5,96.0L417,96.5L417.5,96.9L418,97.3L418.5,97.8L419,98.2L419.5,98.7L420,99.2L420.5,99.6L421,100.1L421.5,100.5L422,101.0L422.5,101.5L423,102.0L423.5,102.4L424,102.9L424.5,103.4L425,103.8L425.5,104.3L426,104.7L426.5,105.2L427,105.6L427.5,106.0L428,106.4L428.5,106.7L429,106.9L429.5,106.9L430,106.5L430.5,105.5L431,103.7L431.5,101.2L432,98.4L432.5,96.4L433,96.1L433.5,98.2L434,101.7L434.5,105.4L435,108.6L435.5,111.0L436,112.6L436.5,113.7L437,114.4L437.5,115.0L438,115.4L438.5,115.8L439,116.2L439.5,116.6L440,116.9L440.5,117.3L441,117.6L441.5,117.9L442,118.2L442.5,118.5L443,118.7L443.5,119.0L444,119.2L444.5,119.4L445,119.6L445.5,119.8L446,120.0"/>
<path d="M48.0,161.0L48.5,161.1L49,161.2L49.5,161.4L50,161.5L50.5,161.6L51,161.7L51.5,161.8L52,161.9L52.5,162.1L53,162.2L53.5,162.3L54,162.4L54.5,162.5L55,162.6L55.5,162.7L56,162.8L56.5,162.9L57,163.0L57.5,163.0L58,163.1L58.5,163.2L59,163.3L59.5,163.4L60,163.5L60.5,163.5L61,163.6L61.5,163.7L62,163.8L62.5,163.8L63,163.9L63.5,163.9L64,164.0L64.5,164.1L65,164.1L65.5,164.2L66,164.2L66.5,164.3L67,164.3L67.5,164.4L68,164.4L68.5,164.5L69,164.5L69.5,164.5L70,164.6L70.5,164.6L71,164.7L71.5,164.7L72,164.7L72.5,164.8L73,164.8L73.5,164.8L74,164.9L74.5,164.9L75,164.9L75.5,164.9L76,165.0L76.5,165.0L77,165.0L77.5,165.1L78,165.1L78.5,165.1L79,165.1L79.5,165.2L80,165.2L80.5,165.2L81,165.2L81.5,165.3L82,165.3L82.5,165.3L83,165.3L83.5,165.3L84,165.3L84.5,165.3L85,165.3L85.5,165.3L86,165.3L86.5,165.2L87,165.2L87.5,165.1L88,165.0L88.5,164.8L89,164.5L89.5,164.0L90,163.4L90.5,162.7L91,162.2L91.5,162.1L92,162.5L92.5,163.2L93,163.9L93.5,164.6L94,165.1L94.5,165.4L95,165.6L95.5,165.8L96,165.9L96.5,166.1L97,166.2L97.5,166.3L98,166.4L98.5,166.4L99,166.5L99.5,166.5L100,166.6L100.5,166.6L101,166.6L101.5,166.7L102,166.7L102.5,166.7L103,166.8L103.5,166.8L104,166.8L104.5,166.8L105,166.8L105.5,166.9L106,166.9L106.5,166.9L107,166.9L107.5,166.9L108,166.9L108.5,167.0L109,167.0L109.5,167.0L110,167.0L110.5,167.0L111,167.0L111.5,167.1L112,167.1L112.5,167.1L113,167.1L113.5,167.1L114,167.2L114.5,167.2L115,167.2L115.5,167.2L116,167.2L116.5,167.3L117,167.3L117.5,167.3L118,167.3L118.5,167.4L119,167.4L119.5,167.4L120,167.4L120.5,167.4L121,167.5L121.5,167.5L122,167.5L122.5,167.5L123,167.5L123.5,167.6L124,167.6L124.5,167.6L125,167.6L125.5,167.6L126,167.7L126.5,167.7L127,167.7L127.5,167.7L128,167.7L128.5,167.7L129,167.8L129.5,167.8L130,167.8L130.5,167.8L131,167.8L131.5,167.9L132,167.9L132.5,167.9L133,167.9L133.5,167.9L134,168.0L134.5,168.0L135,168.0L135.5,168.0L136,168.1L136.5,168.1L137,168.1L137.5,168.1L138,168.1L138.5,168.2L139,168.2L139.5,168.2L140,168.3L140.5,168.3L141,168.3L141.5,168.3L142,168.4L142.5,168.4L143,168.4L143.5,168.5L144,168.5L144.5,168.5L145,168.5L145.5,168.6L146,168.6L146.5,168.7L147,168.7L147.5,168.7L148,168.8L148.5,168.8L149,168.8L149.5,168.9L150,168.9L150.5,168.9L151,169.0L151.5,169.0L152,169.1L152.5,169.1L153,169.1L153.5,169.1L154,169.1L154.5,169.1L155,169.0L155.5,168.8L156,168.6L156.5,168.3L157,167.9L157.5,167.4L158,167.1L158.5,166.9L159,167.1L159.5,167.7L160,168.4L160.5,169.2L161,169.9L161.5,170.6L162,171.1L162.5,171.6L163,171.9L163.5,172.2L164,172.4L164.5,172.6L165,172.7L165.5,172.8L166,173.0L166.5,173.1L167,173.2L167.5,173.3L168,173.4L168.5,173.5L169,173.6L169.5,173.7L170,173.8L170.5,173.9L171,174.0L171.5,174.1L172,174.2L172.5,174.3L173,174.4L173.5,174.4L174,174.5L174.5,174.6L175,174.7L175.5,174.7L176,174.8L176.5,174.9L177,174.9L177.5,175.0L178,175.0L178.5,175.1L179,175.1L179.5,175.1L180,175.2L180.5,175.2L181,175.2L181.5,175.2L182,175.2L182.5,175.2L183,175.2L183.5,175.1L184,175.1L184.5,175.0L185,174.9L185.5,174.8L186,174.7L186.5,174.5L187,174.4L187.5,174.3L188,174.1L188.5,174.0L189,173.8L189.5,173.6L190,173.5L190.5,173.3L191,173.2L191.5,173.0L192,172.8L192.5,172.7L193,172.5L193.5,172.4L194,172.3L194.5,172.1L195,172.0L195.5,171.9L196,171.8L196.5,171.8L197,171.7L197.5,171.6L198,171.5L198.5,171.4L199,171.2L199.5,170.8L200,170.4L200.5,169.8L201,169.3L201.5,168.8L202,168.7L202.5,169.0L203,169.7L203.5,170.5L204,171.2L204.5,171.8L205,172.2L205.5,172.5L206,172.6L206.5,172.7L207,172.7L207.5,172.8L208,172.8L208.5,172.8L209,172.8L209.5,172.8L210,172.8L210.5,172.8L211,172.8L211.5,172.8L212,172.8L212.5,172.8L213,172.8L213.5,172.8L214,172.7L214.5,172.7L215,172.7L215.5,172.7L216,172.7L216.5,172.6L217,172.5L217.5,172.4L218,172.3L218.5,172.2L219,172.0L219.5,171.9L220,171.7L220.5,171.5L221,171.3L221.5,171.1L222,170.9L222.5,170.7L223,170.6L223.5,170.4L224,170.2L224.5,170.1L225,169.9L225.5,169.8L226,169.7L226.5,169.6L227,169.5L227.5,169.3L228,168.9L228.5,168.2L229,167.3L229.5,166.2L230,165.6L230.5,165.7L231,166.5L231.5,167.6L232,168.5L232.5,169.1L233,169.5L233.5,169.7L234,169.7L234.5,169.7L235,169.6L235.5,169.5L236,169.3L236.5,169.1L237,168.9L237.5,168.7L238,168.4L238.5,168.1L239,167.8L239.5,167.5L240,167.2L240.5,166.8L241,166.5L241.5,166.1L242,165.7L242.5,165.3L243,164.9L243.5,164.5L244,164.1L244.5,163.7L245,163.3L245.5,162.9L246,162.5L246.5,162.1L247,161.7L247.5,161.4L248,161.0L248.5,160.6L249,160.3L249.5,160.0L250,159.6L250.5,159.3L251,159.0L251.5,158.7L252,158.3L252.5,158.0L253,157.7L253.5,157.3L254,157.0L254.5,156.6L255,156.2L255.5,155.8L256,155.4L256.5,155.0L257,154.6L257.5,154.1L258,153.6L258.5,153.1L259,152.5L259.5,152.0L260,151.4L260.5,150.7L261,150.1L261.5,149.4L262,148.7L262.5,147.7L263,146.3L263.5,146.0L264,146.5L264.5,146.9L265,147.1L265.5,147.1L266,147.0L266.5,146.9L267,146.7L267.5,146.5L268,146.3L268.5,146.0L269,145.7L269.5,145.4L270,145.0L270.5,144.6L271,144.2L271.5,143.8L272,143.3L272.5,142.8L273,142.3L273.5,141.8L274,141.3L274.5,140.8L275,140.3L275.5,139.7L276,139.2L276.5,138.6L277,138.1L277.5,137.6L278,137.0L278.5,136.5L279,136.0L279.5,135.5L280,135.0L280.5,134.5L281,134.0L281.5,133.5L282,133.0L282.5,132.5L283,132.0L283.5,131.4L284,130.9L284.5,130.3L285,129.7L285.5,129.2L286,128.6L286.5,128.0L287,127.4L287.5,126.8L288,126.2L288.5,125.6L289,125.0L289.5,124.4L290,123.8L290.5,123.1L291,122.5L291.5,121.9L292,121.3L292.5,120.6L293,120.0L293.5,119.4L294,118.7L294.5,118.1L295,117.5L295.5,116.9L296,116.2L296.5,115.6L297,115.0L297.5,114.4L298,113.7L298.5,113.1L299,112.5L299.5,112.4L300,112.6L300.5,112.8L301,112.9L301.5,113.0L302,113.0L302.5,112.9L303,112.7L303.5,112.5L304,112.1L304.5,111.7L305,111.3L305.5,110.8L306,110.3L306.5,109.7L307,109.2L307.5,108.6L308,108.1L308.5,107.6L309,107.1L309.5,106.6L310,106.2L310.5,105.8L311,105.5L311.5,105.1L312,104.7L312.5,104.4L313,104.1L313.5,103.7L314,103.4L314.5,103.1L315,102.7L315.5,102.4L316,102.0L316.5,101.7L317,101.4L317.5,101.0L318,100.7L318.5,100.3L319,100.0L319.5,99.6L320,99.2L320.5,98.8L321,98.4L321.5,98.0L322,97.6L322.5,97.2L323,96.8L323.5,96.4L324,96.0L324.5,95.6L325,95.2L325.5,94.7L326,94.3L326.5,93.9L327,93.5L327.5,93.1L328,92.7L328.5,92.4L329,92.0L329.5,91.6L330,91.3L330.5,90.9L331,90.5L331.5,90.2L332,89.8L332.5,89.5L333,89.1L333.5,88.7L334,88.4L334.5,88.0L335,87.7L335.5,87.4L336,87.0L336.5,86.7L337,86.4L337.5,86.1L338,85.8L338.5,85.5L339,85.2L339.5,84.9L340,84.6L340.5,84.3L341,84.1L341.5,83.8L342,83.6L342.5,83.3L343,83.0L343.5,82.8L344,82.5L344.5,82.3L345,82.0L345.5,81.8L346,81.5L346.5,81.3L347,81.1L347.5,80.8L348,80.6L348.5,80.4L349,80.2L349.5,80.0L350,79.8L350.5,79.6L351,79.5L351.5,79.3L352,79.1L352.5,79.0L353,78.9L353.5,78.7L354,78.6L354.5,78.5L355,78.4L355.5,78.3L356,78.1L356.5,78.0L357,77.9L357.5,77.8L358,77.7L358.5,77.6L359,77.5L359.5,77.4L360,77.3L360.5,77.2L361,77.1L361.5,77.0L362,76.9L362.5,76.8L363,76.8L363.5,76.7L364,76.6L364.5,76.5L365,76.5L365.5,76.4L366,76.3L366.5,76.3L367,76.2L367.5,76.1L368,76.1L368.5,76.0L369,76.0L369.5,75.9L370,75.9L370.5,75.9L371,75.8L371.5,75.8L372,75.7L372.5,75.7L373,75.6L373.5,75.5L374,75.5L374.5,75.4L375,75.3L375.5,75.2L376,75.1L376.5,75.0L377,74.9L377.5,74.7L378,74.5L378.5,74.3L379,74.0L379.5,73.6L380,73.1L380.5,72.3L381,71.0L381.5,68.8L382,65.2L382.5,59.6L383,51.9L383.5,43.8L384,40.0L384.5,44.1L385,52.5L385.5,60.4L386,66.3L386.5,70.1L387,72.5L387.5,73.9L388,74.9L388.5,75.4L389,75.5L389.5,75.4L390,75.2L390.5,75.2L391,75.3L391.5,75.6L392,76.1L392.5,76.6L393,77.3L393.5,78.1L394,78.8L394.5,79.6L395,80.4L395.5,81.2L396,81.8L396.5,82.4L397,83.1L397.5,83.7L398,84.3L398.5,85.0L399,85.6L399.5,86.1L400,86.6L400.5,87.1L401,87.5L401.5,87.8L402,88.2L402.5,88.5L403,88.8L403.5,89.1L404,89.4L404.5,89.7L405,90.0L405.5,90.3L406,90.6L406.5,90.9L407,91.2L407.5,91.6L408,91.9L408.5,92.3L409,92.7L409.5,93.1L410,93.4L410.5,93.8L411,94.2L411.5,94.6L412,95.0L412.5,95.4L413,95.9L413.5,96.3L414,96.7L414.5,97.1L415,97.5L415.5,98.0L416,98.4L416.5,98.8L417,99.3L417.5,99.7L418,100.2L418.5,100.7L419,101.1L419.5,101.6L420,102.1L420.5,102.6L421,103.0L421.5,103.5L422,104.0L422.5,104.5L423,105.0L423.5,105.5L424,105.9L424.5,106.4L425,106.9L425.5,107.4L426,107.8L426.5,108.3L427,108.7L427.5,109.2L428,109.5L428.5,109.9L429,110.1L429.5,110.1L430,109.6L430.5,108.5L431,106.6L431.5,104.0L432,101.1L432.5,98.9L433,98.6L433.5,100.8L434,104.3L434.5,108.2L435,111.4L435.5,113.9L436,115.6L436.5,116.7L437,117.4L437.5,118.0L438,118.5L438.5,118.9L439,119.3L439.5,119.7L440,120.1L440.5,120.4L441,120.8L441.5,121.1L442,121.4L442.5,121.7L443,122.0L443.5,122.3L444,122.6L444.5,122.8L445,123.1L445.5,123.3L446,123.5"/>
<path d="M48.0,167.4L48.5,167.5L49,167.6L49.5,167.7L50,167.8L50.5,168.0L51,168.1L51.5,168.2L52,168.3L52.5,168.4L53,168.5L53.5,168.6L54,168.7L54.5,168.8L55,168.9L55.5,169.0L56,169.1L56.5,169.2L57,169.2L57.5,169.3L58,169.4L58.5,169.5L59,169.6L59.5,169.7L60,169.8L60.5,169.9L61,169.9L61.5,170.0L62,170.1L62.5,170.2L63,170.3L63.5,170.3L64,170.4L64.5,170.5L65,170.5L65.5,170.6L66,170.7L66.5,170.7L67,170.8L67.5,170.9L68,170.9L68.5,171.0L69,171.1L69.5,171.1L70,171.2L70.5,171.2L71,171.3L71.5,171.4L72,171.4L72.5,171.5L73,171.5L73.5,171.6L74,171.6L74.5,171.7L75,171.7L75.5,171.8L76,171.8L76.5,171.9L77,172.0L77.5,172.0L78,172.1L78.5,172.1L79,172.2L79.5,172.2L80,172.3L80.5,172.4L81,172.4L81.5,172.4L82,172.5L82.5,172.5L83,172.6L83.5,172.6L84,172.6L84.5,172.6L85,172.6L85.5,172.6L86,172.6L86.5,172.5L87,172.4L87.5,172.3L88,172.2L88.5,172.0L89,171.7L89.5,171.3L90,170.7L90.5,170.0L91,169.5L91.5,169.4L92,169.8L92.5,170.4L93,171.1L93.5,171.7L94,172.1L94.5,172.4L95,172.6L95.5,172.7L96,172.9L96.5,173.0L97,173.1L97.5,173.2L98,173.3L98.5,173.4L99,173.4L99.5,173.4L100,173.5L100.5,173.5L101,173.6L101.5,173.6L102,173.6L102.5,173.7L103,173.7L103.5,173.7L104,173.7L104.5,173.8L105,173.8L105.5,173.8L106,173.8L106.5,173.8L107,173.9L107.5,173.9L108,173.9L108.5,173.9L109,173.9L109.5,174.0L110,174.0L110.5,174.0L111,174.0L111.5,174.0L112,174.1L112.5,174.1L113,174.1L113.5,174.1L114,174.1L114.5,174.2L115,174.2L115.5,174.2L116,174.3L116.5,174.3L117,174.3L117.5,174.3L118,174.3L118.5,174.4L119,174.4L119.5,174.4L120,174.4L120.5,174.5L121,174.5L121.5,174.5L122,174.5L122.5,174.5L123,174.6L123.5,174.6L124,174.6L124.5,174.6L125,174.6L125.5,174.7L126,174.7L126.5,174.7L127,174.7L127.5,174.7L128,174.8L128.5,174.8L129,174.8L129.5,174.8L130,174.8L130.5,174.9L131,174.9L131.5,174.9L132,174.9L132.5,174.9L133,175.0L133.5,175.0L134,175.0L134.5,175.0L135,175.0L135.5,175.1L136,175.1L136.5,175.1L137,175.1L137.5,175.2L138,175.2L138.5,175.2L139,175.2L139.5,175.3L140,175.3L140.5,175.3L141,175.3L141.5,175.4L142,175.4L142.5,175.4L143,175.4L143.5,175.5L144,175.5L144.5,175.5L145,175.6L145.5,175.6L146,175.6L146.5,175.7L147,175.7L147.5,175.7L148,175.8L148.5,175.8L149,175.8L149.5,175.9L150,175.9L150.5,175.9L151,176.0L151.5,176.0L152,176.0L152.5,176.1L153,176.1L153.5,176.1L154,176.1L154.5,176.1L155,176.0L155.5,175.8L156,175.6L156.5,175.3L157,174.9L157.5,174.5L158,174.1L158.5,174.0L159,174.1L159.5,174.6L160,175.2L160.5,176.0L161,176.6L161.5,177.2L162,177.7L162.5,178.1L163,178.4L163.5,178.6L164,178.8L164.5,179.0L165,179.1L165.5,179.2L166,179.4L166.5,179.5L167,179.6L167.5,179.7L168,179.8L168.5,180.0L169,180.1L169.5,180.2L170,180.3L170.5,180.4L171,180.5L171.5,180.6L172,180.7L172.5,180.8L173,180.9L173.5,181.0L174,181.1L174.5,181.2L175,181.3L175.5,181.4L176,181.5L176.5,181.6L177,181.6L177.5,181.7L178,181.8L178.5,181.8L179,181.9L179.5,181.9L180,181.9L180.5,182.0L181,182.0L181.5,182.0L182,182.0L182.5,182.0L183,182.0L183.5,181.9L184,181.8L184.5,181.8L185,181.7L185.5,181.5L186,181.4L186.5,181.3L187,181.1L187.5,181.0L188,180.8L188.5,180.7L189,180.5L189.5,180.3L190,180.1L190.5,180.0L191,179.8L191.5,179.6L192,179.4L192.5,179.3L193,179.1L193.5,179.0L194,178.8L194.5,178.7L195,178.6L195.5,178.5L196,178.4L196.5,178.3L197,178.2L197.5,178.1L198,178.0L198.5,177.9L199,177.6L199.5,177.3L200,176.8L200.5,176.2L201,175.5L201.5,175.0L202,174.9L202.5,175.2L203,175.9L203.5,176.8L204,177.6L204.5,178.2L205,178.7L205.5,179.0L206,179.1L206.5,179.2L207,179.3L207.5,179.4L208,179.4L208.5,179.4L209,179.5L209.5,179.5L210,179.5L210.5,179.5L211,179.5L211.5,179.5L212,179.6L212.5,179.6L213,179.6L213.5,179.6L214,179.6L214.5,179.6L215,179.6L215.5,179.6L216,179.6L216.5,179.6L217,179.5L217.5,179.4L218,179.3L218.5,179.2L219,179.1L219.5,178.9L220,178.8L220.5,178.6L221,178.4L221.5,178.2L222,178.1L222.5,177.9L223,177.7L223.5,177.5L224,177.4L224.5,177.2L225,177.1L225.5,176.9L226,176.8L226.5,176.7L227,176.5L227.5,176.2L228,175.8L228.5,175.1L229,174.2L229.5,173.2L230,172.5L230.5,172.5L231,173.3L231.5,174.3L232,175.1L232.5,175.7L233,176.0L233.5,176.1L234,176.1L234.5,176.0L235,175.9L235.5,175.8L236,175.6L236.5,175.4L237,175.1L237.5,174.9L238,174.6L238.5,174.3L239,174.0L239.5,173.7L240,173.3L240.5,173.0L241,172.6L241.5,172.3L242,171.9L242.5,171.5L243,171.1L243.5,170.7L244,170.3L244.5,169.9L245,169.5L245.5,169.1L246,168.7L246.5,168.3L247,167.9L247.5,167.6L248,167.2L248.5,166.8L249,166.5L249.5,166.1L250,165.8L250.5,165.4L251,165.1L251.5,164.7L252,164.4L252.5,164.0L253,163.7L253.5,163.3L254,162.9L254.5,162.6L255,162.2L255.5,161.8L256,161.4L256.5,160.9L257,160.5L257.5,160.0L258,159.6L258.5,159.1L259,158.6L259.5,158.0L260,157.5L260.5,156.9L261,156.3L261.5,155.7L262,155.0L262.5,154.2L263,153.2L263.5,153.0L264,153.2L264.5,153.4L265,153.5L265.5,153.5L266,153.4L266.5,153.3L267,153.2L267.5,153.0L268,152.8L268.5,152.6L269,152.4L269.5,152.1L270,151.8L270.5,151.5L271,151.1L271.5,150.7L272,150.3L272.5,149.9L273,149.5L273.5,149.0L274,148.6L274.5,148.1L275,147.6L275.5,147.1L276,146.6L276.5,146.1L277,145.5L277.5,145.0L278,144.5L278.5,143.9L279,143.4L279.5,142.8L280,142.3L280.5,141.8L281,141.2L281.5,140.7L282,140.2L282.5,139.7L283,139.2L283.5,138.7L284,138.1L284.5,137.5L285,136.9L285.5,136.3L286,135.7L286.5,135.0L287,134.4L287.5,133.7L288,133.0L288.5,132.3L289,131.6L289.5,130.9L290,130.1L290.5,129.4L291,128.7L291.5,128.0L292,127.3L292.5,126.5L293,125.8L293.5,125.1L294,124.4L294.5,123.7L295,123.1L295.5,122.4L296,121.7L296.5,121.1L297,120.5L297.5,119.9L298,119.3L298.5,118.7L299,118.2L299.5,117.6L300,117.6L300.5,117.8L301,118.0L301.5,118.1L302,118.2L302.5,118.2L303,118.1L303.5,117.9L304,117.6L304.5,117.3L305,116.9L305.5,116.4L306,115.9L306.5,115.4L307,114.9L307.5,114.4L308,113.8L308.5,113.3L309,112.8L309.5,112.3L310,111.9L310.5,111.5L311,111.1L311.5,110.7L312,110.3L312.5,109.9L313,109.5L313.5,109.0L314,108.6L314.5,108.2L315,107.8L315.5,107.4L316,107.0L316.5,106.6L317,106.2L317.5,105.8L318,105.4L318.5,105.1L319,104.7L319.5,104.3L320,103.9L320.5,103.6L321,103.2L321.5,102.9L322,102.5L322.5,102.2L323,101.8L323.5,101.5L324,101.1L324.5,100.8L325,100.5L325.5,100.1L326,99.8L326.5,99.4L327,99.1L327.5,98.8L328,98.4L328.5,98.1L329,97.7L329.5,97.3L330,97.0L330.5,96.6L331,96.2L331.5,95.8L332,95.4L332.5,94.9L333,94.5L333.5,94.1L334,93.7L334.5,93.3L335,92.9L335.5,92.5L336,92.1L336.5,91.7L337,91.3L337.5,91.0L338,90.6L338.5,90.3L339,90.0L339.5,89.7L340,89.4L340.5,89.2L341,88.9L341.5,88.7L342,88.4L342.5,88.2L343,88.0L343.5,87.8L344,87.6L344.5,87.4L345,87.2L345.5,87.0L346,86.8L346.5,86.6L347,86.4L347.5,86.3L348,86.1L348.5,85.9L349,85.8L349.5,85.6L350,85.5L350.5,85.3L351,85.2L351.5,85.0L352,84.9L352.5,84.7L353,84.6L353.5,84.4L354,84.3L354.5,84.1L355,84.0L355.5,83.9L356,83.7L356.5,83.5L357,83.4L357.5,83.2L358,83.1L358.5,82.9L359,82.8L359.5,82.6L360,82.5L360.5,82.4L361,82.2L361.5,82.1L362,81.9L362.5,81.8L363,81.7L363.5,81.6L364,81.4L364.5,81.3L365,81.2L365.5,81.1L366,81.0L366.5,81.0L367,80.9L367.5,80.8L368,80.8L368.5,80.7L369,80.7L369.5,80.6L370,80.6L370.5,80.6L371,80.6L371.5,80.5L372,80.5L372.5,80.5L373,80.4L373.5,80.4L374,80.4L374.5,80.3L375,80.2L375.5,80.2L376,80.1L376.5,80.0L377,79.9L377.5,79.7L378,79.5L378.5,79.3L379,78.9L379.5,78.5L380,78.0L380.5,77.1L381,75.8L381.5,73.6L382,69.9L382.5,64.4L383,56.8L383.5,48.8L384,45.0L384.5,48.9L385,56.9L385.5,64.6L386,70.2L386.5,73.9L387,76.1L387.5,77.5L388,78.4L388.5,78.9L389,79.2L389.5,79.3L390,79.4L390.5,79.4L391,79.6L391.5,79.9L392,80.4L392.5,81.0L393,81.7L393.5,82.4L394,83.2L394.5,84.0L395,84.8L395.5,85.5L396,86.1L396.5,86.7L397,87.2L397.5,87.8L398,88.3L398.5,88.9L399,89.4L399.5,89.9L400,90.3L400.5,90.8L401,91.2L401.5,91.5L402,91.9L402.5,92.2L403,92.6L403.5,92.9L404,93.2L404.5,93.6L405,93.9L405.5,94.2L406,94.5L406.5,94.9L407,95.2L407.5,95.6L408,95.9L408.5,96.3L409,96.7L409.5,97.1L410,97.4L410.5,97.8L411,98.2L411.5,98.6L412,99.0L412.5,99.4L413,99.8L413.5,100.2L414,100.6L414.5,101.0L415,101.4L415.5,101.8L416,102.2L416.5,102.6L417,103.0L417.5,103.5L418,103.9L418.5,104.4L419,104.8L419.5,105.2L420,105.7L420.5,106.1L421,106.6L421.5,107.1L422,107.5L422.5,108.0L423,108.4L423.5,108.9L424,109.3L424.5,109.8L425,110.3L425.5,110.7L426,111.1L426.5,111.6L427,112.0L427.5,112.4L428,112.8L428.5,113.1L429,113.3L429.5,113.3L430,112.8L430.5,111.7L431,109.8L431.5,107.1L432,104.2L432.5,102.0L433,101.8L433.5,103.9L434,107.6L434.5,111.5L435,114.9L435.5,117.4L436,119.1L436.5,120.2L437,120.9L437.5,121.5L438,122.0L438.5,122.4L439,122.8L439.5,123.2L440,123.6L440.5,123.9L441,124.2L441.5,124.5L442,124.8L442.5,125.1L443,125.4L443.5,125.7L444,125.9L444.5,126.1L445,126.3L445.5,126.5L446,126.7"/>
<path d="M48.0,179.2L48.5,179.3L49,179.4L49.5,179.5L50,179.7L50.5,179.8L51,179.9L51.5,180.0L52,180.1L52.5,180.2L53,180.3L53.5,180.4L54,180.5L54.5,180.6L55,180.7L55.5,180.8L56,180.9L56.5,181.0L57,181.1L57.5,181.2L58,181.3L58.5,181.4L59,181.5L59.5,181.6L60,181.7L60.5,181.8L61,181.9L61.5,182.0L62,182.1L62.5,182.1L63,182.2L63.5,182.3L64,182.4L64.5,182.5L65,182.6L65.5,182.7L66,182.7L66.5,182.8L67,182.9L67.5,183.0L68,183.1L68.5,183.1L69,183.2L69.5,183.3L70,183.4L70.5,183.4L71,183.5L71.5,183.6L72,183.6L72.5,183.7L73,183.8L73.5,183.8L74,183.9L74.5,184.0L75,184.0L75.5,184.1L76,184.2L76.5,184.2L77,184.3L77.5,184.4L78,184.5L78.5,184.5L79,184.6L79.5,184.7L80,184.7L80.5,184.8L81,184.9L81.5,184.9L82,185.0L82.5,185.0L83,185.0L83.5,185.1L84,185.1L84.5,185.1L85,185.1L85.5,185.1L86,185.1L86.5,185.0L87,184.9L87.5,184.7L88,184.6L88.5,184.4L89,184.1L89.5,183.7L90,183.1L90.5,182.5L91,182.0L91.5,181.9L92,182.3L92.5,183.0L93,183.7L93.5,184.4L94,184.9L94.5,185.2L95,185.4L95.5,185.6L96,185.7L96.5,185.8L97,185.9L97.5,186.0L98,186.1L98.5,186.1L99,186.2L99.5,186.2L100,186.3L100.5,186.3L101,186.3L101.5,186.3L102,186.4L102.5,186.4L103,186.4L103.5,186.4L104,186.5L104.5,186.5L105,186.5L105.5,186.5L106,186.5L106.5,186.5L107,186.5L107.5,186.6L108,186.6L108.5,186.6L109,186.6L109.5,186.6L110,186.6L110.5,186.6L111,186.7L111.5,186.7L112,186.7L112.5,186.7L113,186.7L113.5,186.7L114,186.8L114.5,186.8L115,186.8L115.5,186.8L116,186.8L116.5,186.9L117,186.9L117.5,186.9L118,186.9L118.5,186.9L119,187.0L119.5,187.0L120,187.0L120.5,187.0L121,187.0L121.5,187.1L122,187.1L122.5,187.1L123,187.1L123.5,187.1L124,187.2L124.5,187.2L125,187.2L125.5,187.2L126,187.2L126.5,187.3L127,187.3L127.5,187.3L128,187.3L128.5,187.3L129,187.4L129.5,187.4L130,187.4L130.5,187.4L131,187.4L131.5,187.5L132,187.5L132.5,187.5L133,187.5L133.5,187.5L134,187.6L134.5,187.6L135,187.6L135.5,187.6L136,187.6L136.5,187.7L137,187.7L137.5,187.7L138,187.7L138.5,187.8L139,187.8L139.5,187.8L140,187.8L140.5,187.9L141,187.9L141.5,187.9L142,188.0L142.5,188.0L143,188.0L143.5,188.0L144,188.1L144.5,188.1L145,188.1L145.5,188.2L146,188.2L146.5,188.2L147,188.3L147.5,188.3L148,188.3L148.5,188.4L149,188.4L149.5,188.4L150,188.5L150.5,188.5L151,188.5L151.5,188.6L152,188.6L152.5,188.6L153,188.7L153.5,188.7L154,188.7L154.5,188.6L155,188.5L155.5,188.3L156,188.0L156.5,187.6L157,187.1L157.5,186.6L158,186.2L158.5,186.0L159,186.1L159.5,186.6L160,187.3L160.5,188.1L161,188.8L161.5,189.4L162,190.0L162.5,190.3L163,190.6L163.5,190.9L164,191.1L164.5,191.2L165,191.3L165.5,191.4L166,191.5L166.5,191.7L167,191.8L167.5,191.9L168,192.0L168.5,192.1L169,192.2L169.5,192.3L170,192.4L170.5,192.5L171,192.5L171.5,192.6L172,192.7L172.5,192.8L173,192.9L173.5,193.0L174,193.1L174.5,193.2L175,193.2L175.5,193.3L176,193.4L176.5,193.4L177,193.5L177.5,193.5L178,193.6L178.5,193.6L179,193.7L179.5,193.7L180,193.7L180.5,193.8L181,193.8L181.5,193.8L182,193.8L182.5,193.8L183,193.8L183.5,193.7L184,193.6L184.5,193.6L185,193.5L185.5,193.4L186,193.3L186.5,193.1L187,193.0L187.5,192.8L188,192.7L188.5,192.5L189,192.4L189.5,192.2L190,192.0L190.5,191.9L191,191.7L191.5,191.5L192,191.4L192.5,191.2L193,191.1L193.5,190.9L194,190.8L194.5,190.7L195,190.6L195.5,190.5L196,190.4L196.5,190.3L197,190.2L197.5,190.1L198,190.0L198.5,189.9L199,189.6L199.5,189.3L200,188.8L200.5,188.2L201,187.5L201.5,187.0L202,186.9L202.5,187.2L203,187.9L203.5,188.8L204,189.6L204.5,190.2L205,190.7L205.5,191.0L206,191.1L206.5,191.2L207,191.3L207.5,191.3L208,191.4L208.5,191.4L209,191.4L209.5,191.4L210,191.4L210.5,191.4L211,191.5L211.5,191.5L212,191.5L212.5,191.5L213,191.5L213.5,191.5L214,191.5L214.5,191.5L215,191.5L215.5,191.5L216,191.5L216.5,191.4L217,191.4L217.5,191.3L218,191.2L218.5,191.0L219,190.8L219.5,190.7L220,190.5L220.5,190.3L221,190.1L221.5,189.8L222,189.6L222.5,189.4L223,189.2L223.5,188.9L224,188.7L224.5,188.5L225,188.3L225.5,188.1L226,187.9L226.5,187.7L227,187.5L227.5,187.2L228,186.6L228.5,185.7L229,184.5L229.5,183.2L230,182.3L230.5,182.4L231,183.3L231.5,184.4L232,185.5L232.5,186.2L233,186.5L233.5,186.6L234,186.6L234.5,186.5L235,186.3L235.5,186.1L236,185.9L236.5,185.7L237,185.4L237.5,185.2L238,184.9L238.5,184.6L239,184.2L239.5,183.9L240,183.5L240.5,183.2L241,182.8L241.5,182.4L242,182.0L242.5,181.6L243,181.2L243.5,180.8L244,180.4L244.5,180.0L245,179.6L245.5,179.2L246,178.8L246.5,178.4L247,178.1L247.5,177.7L248,177.3L248.5,176.9L249,176.6L249.5,176.2L250,175.9L250.5,175.6L251,175.2L251.5,174.9L252,174.6L252.5,174.2L253,173.9L253.5,173.5L254,173.2L254.5,172.8L255,172.5L255.5,172.1L256,171.7L256.5,171.3L257,170.9L257.5,170.4L258,170.0L258.5,169.5L259,169.0L259.5,168.5L260,167.9L260.5,167.3L261,166.7L261.5,166.1L262,165.4L262.5,164.6L263,163.5L263.5,163.2L264,163.5L264.5,163.8L265,164.1L265.5,164.2L266,164.2L266.5,164.1L267,164.1L267.5,164.0L268,163.8L268.5,163.6L269,163.4L269.5,163.2L270,162.9L270.5,162.6L271,162.3L271.5,162.0L272,161.6L272.5,161.2L273,160.8L273.5,160.4L274,159.9L274.5,159.4L275,158.9L275.5,158.4L276,157.9L276.5,157.3L277,156.8L277.5,156.2L278,155.6L278.5,155.0L279,154.4L279.5,153.8L280,153.1L280.5,152.5L281,151.8L281.5,151.2L282,150.5L282.5,149.9L283,149.2L283.5,148.5L284,147.8L284.5,147.2L285,146.5L285.5,145.8L286,145.1L286.5,144.5L287,143.8L287.5,143.2L288,142.5L288.5,141.9L289,141.2L289.5,140.6L290,140.0L290.5,139.4L291,138.7L291.5,138.0L292,137.3L292.5,136.6L293,135.8L293.5,135.1L294,134.3L294.5,133.6L295,132.8L295.5,132.1L296,131.4L296.5,130.7L297,130.0L297.5,129.4L298,128.7L298.5,128.1L299,127.6L299.5,127.0L300,126.4L300.5,126.5L301,126.8L301.5,127.0L302,127.1L302.5,127.2L303,127.2L303.5,127.0L304,126.8L304.5,126.6L305,126.2L305.5,125.8L306,125.4L306.5,124.9L307,124.4L307.5,123.9L308,123.4L308.5,122.9L309,122.3L309.5,121.9L310,121.4L310.5,121.0L311,120.5L311.5,120.0L312,119.5L312.5,119.0L313,118.5L313.5,117.9L314,117.4L314.5,116.9L315,116.3L315.5,115.8L316,115.3L316.5,114.7L317,114.2L317.5,113.7L318,113.2L318.5,112.8L319,112.3L319.5,111.9L320,111.5L320.5,111.1L321,110.7L321.5,110.3L322,110.0L322.5,109.6L323,109.2L323.5,108.9L324,108.6L324.5,108.2L325,107.9L325.5,107.6L326,107.2L326.5,106.9L327,106.6L327.5,106.3L328,105.9L328.5,105.6L329,105.3L329.5,105.0L330,104.7L330.5,104.3L331,104.0L331.5,103.7L332,103.4L332.5,103.1L333,102.8L333.5,102.5L334,102.2L334.5,101.9L335,101.6L335.5,101.3L336,101.0L336.5,100.7L337,100.4L337.5,100.1L338,99.9L338.5,99.6L339,99.3L339.5,99.1L340,98.8L340.5,98.6L341,98.3L341.5,98.1L342,97.8L342.5,97.6L343,97.3L343.5,97.1L344,96.8L344.5,96.6L345,96.4L345.5,96.1L346,95.9L346.5,95.7L347,95.5L347.5,95.3L348,95.0L348.5,94.8L349,94.6L349.5,94.4L350,94.2L350.5,94.0L351,93.9L351.5,93.7L352,93.5L352.5,93.3L353,93.2L353.5,93.0L354,92.9L354.5,92.7L355,92.6L355.5,92.5L356,92.3L356.5,92.2L357,92.1L357.5,92.0L358,91.8L358.5,91.7L359,91.6L359.5,91.5L360,91.4L360.5,91.3L361,91.2L361.5,91.1L362,91.0L362.5,90.8L363,90.7L363.5,90.6L364,90.5L364.5,90.4L365,90.3L365.5,90.2L366,90.1L366.5,90.0L367,89.9L367.5,89.8L368,89.7L368.5,89.6L369,89.4L369.5,89.3L370,89.2L370.5,89.1L371,88.9L371.5,88.8L372,88.6L372.5,88.5L373,88.3L373.5,88.1L374,88.0L374.5,87.8L375,87.6L375.5,87.4L376,87.3L376.5,87.1L377,86.9L377.5,86.6L378,86.4L378.5,86.1L379,85.8L379.5,85.3L380,84.7L380.5,83.8L381,82.4L381.5,80.2L382,76.6L382.5,71.1L383,63.6L383.5,55.8L384,52.0L384.5,55.7L385,63.6L385.5,71.0L386,76.4L386.5,80.0L387,82.2L387.5,83.5L388,84.4L388.5,85.0L389,85.6L389.5,86.2L390,86.8L390.5,87.4L391,88.0L391.5,88.7L392,89.3L392.5,89.9L393,90.5L393.5,91.1L394,91.9L394.5,92.7L395,93.5L395.5,94.3L396,95.1L396.5,96.0L397,96.7L397.5,97.5L398,98.1L398.5,98.7L399,99.3L399.5,99.8L400,100.4L400.5,100.9L401,101.4L401.5,101.8L402,102.3L402.5,102.8L403,103.2L403.5,103.6L404,104.0L404.5,104.3L405,104.7L405.5,105.0L406,105.3L406.5,105.6L407,105.9L407.5,106.2L408,106.5L408.5,106.7L409,106.9L409.5,107.2L410,107.4L410.5,107.6L411,107.9L411.5,108.1L412,108.3L412.5,108.5L413,108.8L413.5,109.0L414,109.3L414.5,109.5L415,109.8L415.5,110.1L416,110.4L416.5,110.7L417,111.0L417.5,111.4L418,111.7L418.5,112.1L419,112.4L419.5,112.8L420,113.2L420.5,113.5L421,113.9L421.5,114.3L422,114.7L422.5,115.1L423,115.5L423.5,115.9L424,116.3L424.5,116.7L425,117.1L425.5,117.5L426,117.9L426.5,118.3L427,118.7L427.5,119.1L428,119.4L428.5,119.8L429,120.0L429.5,120.0L430,119.7L430.5,118.9L431,117.4L431.5,115.4L432,113.2L432.5,111.5L433,111.4L433.5,113.2L434,116.2L434.5,119.4L435,122.1L435.5,124.2L436,125.7L436.5,126.7L437,127.4L437.5,128.0L438,128.4L438.5,128.9L439,129.3L439.5,129.7L440,130.2L440.5,130.5L441,130.9L441.5,131.3L442,131.7L442.5,132.0L443,132.3L443.5,132.7L444,133.0L444.5,133.3L445,133.6L445.5,133.9L446,134.2"/>
<path d="M48.0,203.0L48.5,203.2L49,203.4L49.5,203.6L50,203.8L50.5,204.0L51,204.2L51.5,204.4L52,204.6L52.5,204.8L53,204.9L53.5,205.1L54,205.3L54.5,205.5L55,205.6L55.5,205.8L56,205.9L56.5,206.1L57,206.2L57.5,206.4L58,206.5L58.5,206.7L59,206.8L59.5,206.9L60,207.0L60.5,207.1L61,207.3L61.5,207.4L62,207.5L62.5,207.6L63,207.6L63.5,207.7L64,207.8L64.5,207.9L65,207.9L65.5,208.0L66,208.1L66.5,208.1L67,208.2L67.5,208.3L68,208.3L68.5,208.4L69,208.4L69.5,208.5L70,208.5L70.5,208.6L71,208.6L71.5,208.7L72,208.7L72.5,208.7L73,208.8L73.5,208.8L74,208.9L74.5,208.9L75,208.9L75.5,209.0L76,209.0L76.5,209.0L77,209.1L77.5,209.1L78,209.1L78.5,209.2L79,209.2L79.5,209.2L80,209.3L80.5,209.3L81,209.3L81.5,209.3L82,209.4L82.5,209.4L83,209.4L83.5,209.4L84,209.4L84.5,209.4L85,209.4L85.5,209.4L86,209.4L86.5,209.3L87,209.3L87.5,209.2L88,209.1L88.5,208.9L89,208.7L89.5,208.4L90,208.0L90.5,207.6L91,207.3L91.5,207.3L92,207.7L92.5,208.3L93,208.9L93.5,209.5L94,209.9L94.5,210.3L95,210.5L95.5,210.7L96,210.9L96.5,211.2L97,211.4L97.5,211.5L98,211.6L98.5,211.6L99,211.7L99.5,211.7L100,211.7L100.5,211.7L101,211.7L101.5,211.8L102,211.8L102.5,211.8L103,211.8L103.5,211.8L104,211.8L104.5,211.8L105,211.8L105.5,211.8L106,211.9L106.5,211.9L107,211.9L107.5,211.9L108,211.9L108.5,211.9L109,211.9L109.5,211.9L110,211.9L110.5,211.9L111,211.9L111.5,211.9L112,211.9L112.5,211.9L113,212.0L113.5,212.0L114,212.0L114.5,212.0L115,212.0L115.5,212.0L116,212.0L116.5,212.0L117,212.1L117.5,212.1L118,212.1L118.5,212.1L119,212.1L119.5,212.1L120,212.2L120.5,212.2L121,212.2L121.5,212.2L122,212.2L122.5,212.3L123,212.3L123.5,212.3L124,212.3L124.5,212.3L125,212.4L125.5,212.4L126,212.4L126.5,212.4L127,212.4L127.5,212.5L128,212.5L128.5,212.5L129,212.5L129.5,212.6L130,212.6L130.5,212.6L131,212.6L131.5,212.7L132,212.7L132.5,212.7L133,212.7L133.5,212.8L134,212.8L134.5,212.8L135,212.9L135.5,212.9L136,212.9L136.5,212.9L137,213.0L137.5,213.0L138,213.0L138.5,213.1L139,213.1L139.5,213.1L140,213.2L140.5,213.2L141,213.2L141.5,213.3L142,213.3L142.5,213.3L143,213.4L143.5,213.4L144,213.4L144.5,213.5L145,213.5L145.5,213.6L146,213.6L146.5,213.6L147,213.7L147.5,213.7L148,213.7L148.5,213.8L149,213.8L149.5,213.9L150,213.9L150.5,213.9L151,214.0L151.5,214.0L152,214.0L152.5,214.1L153,214.1L153.5,214.1L154,214.1L154.5,214.1L155,214.0L155.5,213.8L156,213.6L156.5,213.3L157,212.8L157.5,212.4L158,212.0L158.5,211.8L159,211.9L159.5,212.3L160,212.9L160.5,213.5L161,214.1L161.5,214.6L162,215.0L162.5,215.3L163,215.6L163.5,215.8L164,215.9L164.5,216.0L165,216.1L165.5,216.2L166,216.3L166.5,216.4L167,216.5L167.5,216.7L168,216.8L168.5,216.9L169,217.0L169.5,217.1L170,217.2L170.5,217.3L171,217.4L171.5,217.5L172,217.6L172.5,217.8L173,217.9L173.5,218.0L174,218.1L174.5,218.2L175,218.3L175.5,218.3L176,218.4L176.5,218.5L177,218.6L177.5,218.7L178,218.7L178.5,218.8L179,218.8L179.5,218.9L180,218.9L180.5,219.0L181,219.0L181.5,219.0L182,219.0L182.5,219.0L183,219.0L183.5,218.9L184,218.8L184.5,218.7L185,218.6L185.5,218.5L186,218.3L186.5,218.2L187,218.0L187.5,217.9L188,217.7L188.5,217.5L189,217.3L189.5,217.1L190,216.9L190.5,216.7L191,216.5L191.5,216.3L192,216.1L192.5,215.9L193,215.8L193.5,215.6L194,215.4L194.5,215.3L195,215.1L195.5,215.0L196,214.9L196.5,214.8L197,214.7L197.5,214.6L198,214.5L198.5,214.3L199,214.0L199.5,213.6L200,213.0L200.5,212.2L201,211.4L201.5,210.7L202,210.5L202.5,210.8L203,211.4L203.5,212.3L204,213.1L204.5,213.7L205,214.2L205.5,214.5L206,214.6L206.5,214.7L207,214.8L207.5,214.8L208,214.8L208.5,214.8L209,214.8L209.5,214.8L210,214.7L210.5,214.7L211,214.7L211.5,214.6L212,214.6L212.5,214.5L213,214.5L213.5,214.4L214,214.4L214.5,214.3L215,214.3L215.5,214.2L216,214.1L216.5,214.0L217,213.9L217.5,213.8L218,213.6L218.5,213.4L219,213.2L219.5,213.0L220,212.7L220.5,212.5L221,212.2L221.5,212.0L222,211.7L222.5,211.4L223,211.1L223.5,210.9L224,210.6L224.5,210.3L225,210.1L225.5,209.8L226,209.6L226.5,209.3L227,209.0L227.5,208.6L228,208.0L228.5,207.1L229,205.9L229.5,204.6L230,203.7L230.5,203.7L231,204.4L231.5,205.4L232,206.3L232.5,206.8L233,207.0L233.5,207.0L234,206.9L234.5,206.7L235,206.5L235.5,206.2L236,206.0L236.5,205.7L237,205.4L237.5,205.1L238,204.8L238.5,204.5L239,204.1L239.5,203.8L240,203.5L240.5,203.1L241,202.7L241.5,202.4L242,202.0L242.5,201.6L243,201.3L243.5,200.9L244,200.5L244.5,200.1L245,199.7L245.5,199.4L246,199.0L246.5,198.6L247,198.2L247.5,197.9L248,197.5L248.5,197.1L249,196.8L249.5,196.5L250,196.1L250.5,195.8L251,195.5L251.5,195.2L252,194.9L252.5,194.6L253,194.3L253.5,194.0L254,193.6L254.5,193.3L255,193.0L255.5,192.6L256,192.2L256.5,191.9L257,191.5L257.5,191.1L258,190.6L258.5,190.2L259,189.7L259.5,189.2L260,188.6L260.5,188.1L261,187.5L261.5,186.9L262,186.0L262.5,185.0L263,183.8L263.5,183.7L264,184.2L264.5,184.6L265,184.8L265.5,184.8L266,184.7L266.5,184.6L267,184.5L267.5,184.3L268,184.1L268.5,183.8L269,183.5L269.5,183.2L270,182.8L270.5,182.4L271,182.0L271.5,181.6L272,181.1L272.5,180.6L273,180.1L273.5,179.6L274,179.1L274.5,178.5L275,177.9L275.5,177.3L276,176.7L276.5,176.1L277,175.5L277.5,174.9L278,174.2L278.5,173.6L279,173.0L279.5,172.3L280,171.7L280.5,171.0L281,170.4L281.5,169.8L282,169.1L282.5,168.5L283,167.9L283.5,167.3L284,166.7L284.5,166.2L285,165.6L285.5,165.1L286,164.5L286.5,163.9L287,163.4L287.5,162.8L288,162.3L288.5,161.7L289,161.1L289.5,160.5L290,159.9L290.5,159.3L291,158.7L291.5,158.1L292,157.4L292.5,156.8L293,156.1L293.5,155.5L294,154.8L294.5,154.1L295,153.4L295.5,152.7L296,151.9L296.5,151.1L297,150.3L297.5,149.5L298,148.6L298.5,147.7L299,146.9L299.5,146.0L300,145.7L300.5,145.9L301,146.1L301.5,146.1L302,146.2L302.5,146.2L303,146.2L303.5,146.0L304,145.8L304.5,145.4L305,145.0L305.5,144.6L306,144.1L306.5,143.5L307,142.9L307.5,142.3L308,141.7L308.5,141.1L309,140.5L309.5,139.9L310,139.4L310.5,138.9L311,138.4L311.5,137.8L312,137.3L312.5,136.7L313,136.2L313.5,135.6L314,135.0L314.5,134.5L315,133.9L315.5,133.3L316,132.8L316.5,132.2L317,131.6L317.5,131.1L318,130.5L318.5,130.0L319,129.5L319.5,129.0L320,128.5L320.5,128.0L321,127.5L321.5,127.1L322,126.6L322.5,126.1L323,125.7L323.5,125.2L324,124.8L324.5,124.3L325,123.9L325.5,123.5L326,123.0L326.5,122.6L327,122.2L327.5,121.7L328,121.3L328.5,120.9L329,120.5L329.5,120.1L330,119.7L330.5,119.2L331,118.8L331.5,118.4L332,117.9L332.5,117.5L333,117.1L333.5,116.6L334,116.2L334.5,115.8L335,115.4L335.5,115.0L336,114.6L336.5,114.2L337,113.9L337.5,113.5L338,113.2L338.5,112.9L339,112.6L339.5,112.3L340,112.1L340.5,111.9L341,111.7L341.5,111.5L342,111.3L342.5,111.1L343,110.9L343.5,110.7L344,110.6L344.5,110.4L345,110.2L345.5,110.1L346,109.9L346.5,109.8L347,109.7L347.5,109.5L348,109.4L348.5,109.3L349,109.1L349.5,109.0L350,108.9L350.5,108.8L351,108.7L351.5,108.6L352,108.4L352.5,108.3L353,108.2L353.5,108.1L354,108.0L354.5,107.9L355,107.8L355.5,107.7L356,107.6L356.5,107.5L357,107.4L357.5,107.3L358,107.2L358.5,107.1L359,107.0L359.5,106.9L360,106.8L360.5,106.7L361,106.6L361.5,106.5L362,106.4L362.5,106.3L363,106.2L363.5,106.1L364,106.1L364.5,106.0L365,105.9L365.5,105.8L366,105.8L366.5,105.7L367,105.6L367.5,105.6L368,105.5L368.5,105.4L369,105.4L369.5,105.3L370,105.3L370.5,105.3L371,105.2L371.5,105.2L372,105.1L372.5,105.1L373,105.0L373.5,104.9L374,104.9L374.5,104.8L375,104.7L375.5,104.7L376,104.6L376.5,104.5L377,104.3L377.5,104.2L378,104.0L378.5,103.8L379,103.6L379.5,103.3L380,102.9L380.5,102.2L381,101.2L381.5,99.4L382,96.3L382.5,91.4L383,84.8L383.5,77.8L384,74.5L384.5,78.1L385,85.5L385.5,92.5L386,97.7L386.5,101.1L387,103.2L387.5,104.4L388,105.1L388.5,105.4L389,105.4L389.5,105.5L390,105.5L390.5,105.7L391,105.9L391.5,106.1L392,106.4L392.5,106.7L393,107.0L393.5,107.4L394,107.8L394.5,108.2L395,108.6L395.5,109.0L396,109.5L396.5,110.1L397,110.9L397.5,111.8L398,112.6L398.5,113.5L399,114.4L399.5,115.2L400,115.9L400.5,116.4L401,116.9L401.5,117.4L402,117.9L402.5,118.4L403,118.8L403.5,119.2L404,119.6L404.5,119.9L405,120.3L405.5,120.6L406,121.0L406.5,121.3L407,121.6L407.5,121.9L408,122.2L408.5,122.5L409,122.7L409.5,123.0L410,123.3L410.5,123.5L411,123.8L411.5,124.1L412,124.3L412.5,124.6L413,124.8L413.5,125.1L414,125.4L414.5,125.6L415,125.9L415.5,126.2L416,126.5L416.5,126.8L417,127.1L417.5,127.4L418,127.7L418.5,128.0L419,128.3L419.5,128.6L420,128.9L420.5,129.2L421,129.5L421.5,129.8L422,130.1L422.5,130.5L423,130.8L423.5,131.1L424,131.4L424.5,131.7L425,132.0L425.5,132.4L426,132.7L426.5,133.0L427,133.3L427.5,133.6L428,133.9L428.5,134.2L429,134.4L429.5,134.4L430,134.2L430.5,133.5L431,132.3L431.5,130.6L432,128.8L432.5,127.4L433,127.4L433.5,129.1L434,131.7L434.5,134.5L435,137.0L435.5,138.9L436,140.2L436.5,141.1L437,141.8L437.5,142.4L438,142.8L438.5,143.3L439,143.7L439.5,144.2L440,144.6L440.5,145.0L441,145.4L441.5,145.7L442,146.1L442.5,146.5L443,146.8L443.5,147.2L444,147.5L444.5,147.9L445,148.2L445.5,148.5L446,148.8"/>
<path d="M48.0,234.0L48.5,234.2L49,234.3L49.5,234.5L50,234.6L50.5,234.8L51,234.9L51.5,235.1L52,235.2L52.5,235.4L53,235.5L53.5,235.6L54,235.8L54.5,235.9L55,236.1L55.5,236.2L56,236.3L56.5,236.5L57,236.6L57.5,236.7L58,236.9L58.5,237.0L59,237.1L59.5,237.2L60,237.4L60.5,237.5L61,237.6L61.5,237.7L62,237.8L62.5,238.0L63,238.1L63.5,238.2L64,238.3L64.5,238.4L65,238.5L65.5,238.6L66,238.8L66.5,238.9L67,239.0L67.5,239.1L68,239.2L68.5,239.4L69,239.5L69.5,239.6L70,239.7L70.5,239.8L71,239.9L71.5,240.0L72,240.1L72.5,240.1L73,240.2L73.5,240.3L74,240.3L74.5,240.4L75,240.4L75.5,240.5L76,240.5L76.5,240.5L77,240.6L77.5,240.6L78,240.7L78.5,240.7L79,240.7L79.5,240.7L80,240.8L80.5,240.8L81,240.8L81.5,240.8L82,240.9L82.5,240.9L83,240.9L83.5,240.9L84,240.9L84.5,240.9L85,240.9L85.5,240.9L86,240.9L86.5,240.8L87,240.8L87.5,240.7L88,240.6L88.5,240.4L89,240.2L89.5,239.9L90,239.4L90.5,239.0L91,238.6L91.5,238.6L92,239.0L92.5,239.7L93,240.4L93.5,241.0L94,241.4L94.5,241.8L95,242.0L95.5,242.2L96,242.4L96.5,242.6L97,242.7L97.5,242.8L98,242.9L98.5,242.9L99,242.9L99.5,243.0L100,243.0L100.5,243.0L101,243.0L101.5,243.0L102,243.0L102.5,243.0L103,243.1L103.5,243.1L104,243.1L104.5,243.1L105,243.1L105.5,243.1L106,243.1L106.5,243.1L107,243.1L107.5,243.1L108,243.1L108.5,243.1L109,243.1L109.5,243.1L110,243.1L110.5,243.1L111,243.1L111.5,243.1L112,243.2L112.5,243.2L113,243.2L113.5,243.2L114,243.2L114.5,243.2L115,243.2L115.5,243.2L116,243.2L116.5,243.2L117,243.2L117.5,243.3L118,243.3L118.5,243.3L119,243.3L119.5,243.3L120,243.3L120.5,243.3L121,243.4L121.5,243.4L122,243.4L122.5,243.4L123,243.4L123.5,243.4L124,243.4L124.5,243.5L125,243.5L125.5,243.5L126,243.5L126.5,243.5L127,243.5L127.5,243.6L128,243.6L128.5,243.6L129,243.6L129.5,243.6L130,243.7L130.5,243.7L131,243.7L131.5,243.7L132,243.7L132.5,243.8L133,243.8L133.5,243.8L134,243.8L134.5,243.9L135,243.9L135.5,243.9L136,243.9L136.5,244.0L137,244.0L137.5,244.0L138,244.0L138.5,244.1L139,244.1L139.5,244.1L140,244.1L140.5,244.2L141,244.2L141.5,244.2L142,244.2L142.5,244.3L143,244.3L143.5,244.3L144,244.4L144.5,244.4L145,244.4L145.5,244.4L146,244.5L146.5,244.5L147,244.5L147.5,244.6L148,244.6L148.5,244.6L149,244.6L149.5,244.7L150,244.7L150.5,244.7L151,244.8L151.5,244.8L152,244.8L152.5,244.8L153,244.9L153.5,244.9L154,244.9L154.5,244.9L155,244.8L155.5,244.7L156,244.5L156.5,244.3L157,244.0L157.5,243.7L158,243.4L158.5,243.3L159,243.4L159.5,243.6L160,244.0L160.5,244.4L161,244.8L161.5,245.1L162,245.4L162.5,245.6L163,245.8L163.5,245.9L164,246.0L164.5,246.1L165,246.2L165.5,246.2L166,246.3L166.5,246.4L167,246.5L167.5,246.5L168,246.6L168.5,246.7L169,246.8L169.5,246.9L170,247.0L170.5,247.1L171,247.2L171.5,247.3L172,247.4L172.5,247.5L173,247.6L173.5,247.7L174,247.7L174.5,247.8L175,247.9L175.5,248.0L176,248.1L176.5,248.2L177,248.2L177.5,248.3L178,248.4L178.5,248.4L179,248.5L179.5,248.5L180,248.5L180.5,248.6L181,248.6L181.5,248.6L182,248.6L182.5,248.6L183,248.6L183.5,248.5L184,248.4L184.5,248.3L185,248.2L185.5,248.1L186,247.9L186.5,247.8L187,247.6L187.5,247.4L188,247.2L188.5,247.0L189,246.8L189.5,246.6L190,246.4L190.5,246.1L191,245.9L191.5,245.7L192,245.5L192.5,245.2L193,245.0L193.5,244.8L194,244.6L194.5,244.3L195,244.1L195.5,243.9L196,243.7L196.5,243.6L197,243.4L197.5,243.2L198,243.0L198.5,242.7L199,242.4L199.5,241.9L200,241.3L200.5,240.6L201,239.9L201.5,239.3L202,239.0L202.5,239.1L203,239.5L203.5,240.0L204,240.5L204.5,241.0L205,241.3L205.5,241.5L206,241.6L206.5,241.7L207,241.7L207.5,241.7L208,241.8L208.5,241.8L209,241.8L209.5,241.8L210,241.8L210.5,241.8L211,241.8L211.5,241.8L212,241.8L212.5,241.8L213,241.8L213.5,241.8L214,241.8L214.5,241.8L215,241.8L215.5,241.8L216,241.8L216.5,241.7L217,241.6L217.5,241.5L218,241.4L218.5,241.2L219,241.0L219.5,240.7L220,240.5L220.5,240.2L221,239.9L221.5,239.6L222,239.3L222.5,239.0L223,238.7L223.5,238.3L224,238.0L224.5,237.7L225,237.4L225.5,237.0L226,236.7L226.5,236.4L227,236.0L227.5,235.5L228,234.8L228.5,233.8L229,232.5L229.5,231.2L230,230.2L230.5,230.0L231,230.6L231.5,231.5L232,232.2L232.5,232.6L233,232.7L233.5,232.6L234,232.5L234.5,232.3L235,232.0L235.5,231.8L236,231.5L236.5,231.3L237,231.0L237.5,230.8L238,230.5L238.5,230.3L239,230.0L239.5,229.7L240,229.5L240.5,229.2L241,228.9L241.5,228.6L242,228.4L242.5,228.1L243,227.8L243.5,227.5L244,227.2L244.5,226.9L245,226.6L245.5,226.2L246,225.9L246.5,225.6L247,225.2L247.5,224.9L248,224.5L248.5,224.1L249,223.8L249.5,223.4L250,223.0L250.5,222.7L251,222.3L251.5,221.9L252,221.6L252.5,221.2L253,220.8L253.5,220.4L254,220.0L254.5,219.5L255,219.1L255.5,218.6L256,218.2L256.5,217.7L257,217.1L257.5,216.6L258,216.0L258.5,215.5L259,214.8L259.5,214.2L260,213.5L260.5,212.8L261,212.1L261.5,211.4L262,210.6L262.5,209.5L263,208.2L263.5,207.8L264,208.2L264.5,208.5L265,208.6L265.5,208.6L266,208.5L266.5,208.4L267,208.2L267.5,208.0L268,207.8L268.5,207.5L269,207.2L269.5,206.8L270,206.4L270.5,206.0L271,205.6L271.5,205.1L272,204.6L272.5,204.1L273,203.6L273.5,203.0L274,202.4L274.5,201.8L275,201.2L275.5,200.6L276,200.0L276.5,199.3L277,198.7L277.5,198.0L278,197.3L278.5,196.7L279,196.0L279.5,195.3L280,194.7L280.5,194.0L281,193.3L281.5,192.7L282,192.0L282.5,191.4L283,190.8L283.5,190.1L284,189.5L284.5,189.0L285,188.4L285.5,187.8L286,187.3L286.5,186.7L287,186.2L287.5,185.6L288,185.0L288.5,184.4L289,183.8L289.5,183.2L290,182.6L290.5,182.0L291,181.3L291.5,180.7L292,180.0L292.5,179.3L293,178.6L293.5,177.9L294,177.2L294.5,176.4L295,175.6L295.5,174.9L296,174.1L296.5,173.3L297,172.4L297.5,171.6L298,170.8L298.5,169.9L299,169.0L299.5,168.2L300,167.8L300.5,167.8L301,167.7L301.5,167.7L302,167.6L302.5,167.6L303,167.5L303.5,167.4L304,167.2L304.5,167.0L305,166.7L305.5,166.3L306,165.9L306.5,165.5L307,165.0L307.5,164.6L308,164.1L308.5,163.6L309,163.1L309.5,162.7L310,162.2L310.5,161.7L311,161.3L311.5,160.8L312,160.3L312.5,159.7L313,159.2L313.5,158.6L314,158.1L314.5,157.5L315,156.9L315.5,156.3L316,155.7L316.5,155.1L317,154.6L317.5,154.0L318,153.4L318.5,152.9L319,152.3L319.5,151.8L320,151.3L320.5,150.7L321,150.2L321.5,149.7L322,149.1L322.5,148.6L323,148.1L323.5,147.5L324,147.0L324.5,146.5L325,146.0L325.5,145.5L326,145.0L326.5,144.5L327,144.0L327.5,143.6L328,143.1L328.5,142.7L329,142.3L329.5,141.9L330,141.5L330.5,141.1L331,140.7L331.5,140.3L332,140.0L332.5,139.6L333,139.2L333.5,138.9L334,138.5L334.5,138.2L335,137.8L335.5,137.5L336,137.2L336.5,136.8L337,136.5L337.5,136.2L338,135.9L338.5,135.7L339,135.4L339.5,135.1L340,134.9L340.5,134.7L341,134.4L341.5,134.2L342,134.0L342.5,133.8L343,133.6L343.5,133.4L344,133.2L344.5,133.0L345,132.8L345.5,132.6L346,132.4L346.5,132.2L347,132.0L347.5,131.9L348,131.7L348.5,131.5L349,131.4L349.5,131.2L350,131.1L350.5,130.9L351,130.7L351.5,130.6L352,130.5L352.5,130.3L353,130.2L353.5,130.0L354,129.9L354.5,129.8L355,129.6L355.5,129.5L356,129.3L356.5,129.2L357,129.1L357.5,129.0L358,128.8L358.5,128.7L359,128.6L359.5,128.5L360,128.3L360.5,128.2L361,128.1L361.5,128.0L362,127.9L362.5,127.8L363,127.6L363.5,127.5L364,127.4L364.5,127.3L365,127.2L365.5,127.1L366,127.0L366.5,126.9L367,126.8L367.5,126.7L368,126.6L368.5,126.5L369,126.4L369.5,126.3L370,126.2L370.5,126.1L371,126.0L371.5,125.9L372,125.8L372.5,125.7L373,125.5L373.5,125.4L374,125.3L374.5,125.2L375,125.1L375.5,124.9L376,124.8L376.5,124.7L377,124.5L377.5,124.4L378,124.2L378.5,124.0L379,123.8L379.5,123.5L380,123.2L380.5,122.6L381,121.7L381.5,120.0L382,117.2L382.5,112.7L383,106.6L383.5,100.2L384,97.2L384.5,100.6L385,107.4L385.5,113.8L386,118.6L386.5,121.7L387,123.6L387.5,124.8L388,125.4L388.5,125.7L389,125.8L389.5,125.9L390,125.9L390.5,126.1L391,126.3L391.5,126.5L392,126.8L392.5,127.2L393,127.6L393.5,128.0L394,128.4L394.5,128.9L395,129.4L395.5,129.8L396,130.3L396.5,131.0L397,131.7L397.5,132.5L398,133.3L398.5,134.1L399,134.9L399.5,135.6L400,136.2L400.5,136.7L401,137.1L401.5,137.5L402,137.9L402.5,138.2L403,138.6L403.5,138.9L404,139.2L404.5,139.5L405,139.8L405.5,140.1L406,140.4L406.5,140.6L407,140.9L407.5,141.1L408,141.4L408.5,141.6L409,141.8L409.5,142.0L410,142.2L410.5,142.5L411,142.7L411.5,142.9L412,143.1L412.5,143.3L413,143.5L413.5,143.8L414,144.0L414.5,144.2L415,144.5L415.5,144.7L416,145.0L416.5,145.3L417,145.5L417.5,145.8L418,146.1L418.5,146.4L419,146.7L419.5,147.0L420,147.3L420.5,147.6L421,147.9L421.5,148.2L422,148.5L422.5,148.8L423,149.1L423.5,149.4L424,149.7L424.5,150.0L425,150.4L425.5,150.7L426,151.0L426.5,151.3L427,151.7L427.5,152.0L428,152.3L428.5,152.5L429,152.7L429.5,152.8L430,152.6L430.5,152.0L431,150.9L431.5,149.3L432,147.6L432.5,146.4L433,146.4L433.5,148.0L434,150.5L434.5,153.2L435,155.5L435.5,157.3L436,158.5L436.5,159.4L437,160.0L437.5,160.6L438,161.0L438.5,161.5L439,161.9L439.5,162.3L440,162.7L440.5,163.0L441,163.4L441.5,163.7L442,164.1L442.5,164.4L443,164.8L443.5,165.1L444,165.4L444.5,165.7L445,166.0L445.5,166.2L446,166.5"/>
<path d="M48.0,352.1L48.5,352.7L49,353.3L49.5,353.9L50,354.5L50.5,355.1L51,355.7L51.5,356.3L52,356.9L52.5,357.5L53,358.1L53.5,358.7L54,359.2L54.5,359.8L55,360.4L55.5,360.9L56,361.5L56.5,362.0L57,362.6L57.5,363.1L58,363.6L58.5,364.2L59,364.7L59.5,365.2L60,365.8L60.5,366.4L61,367.0L61.5,367.6L62,368.2L62.5,368.9L63,369.5L63.5,370.2L64,370.8L64.5,371.4L65,372.0L65.5,372.5L66,373.1L66.5,373.5L67,374.0L67.5,374.4L68,374.7L68.5,374.9L69,375.1L69.5,375.3L70,375.3L70.5,375.3L71,375.2L71.5,375.0L72,374.7L72.5,374.4L73,374.1L73.5,373.6L74,373.2L74.5,372.6L75,372.1L75.5,371.4L76,370.8L76.5,371.3L77,372.7L77.5,374.0L78,375.4L78.5,376.7L79,377.9L79.5,379.1L80,380.2L80.5,381.3L81,382.3L81.5,383.2L82,384.0L82.5,384.8L83,385.4L83.5,386.0L84,386.6L84.5,387.1L85,387.7L85.5,388.3L86,388.8L86.5,389.3L87,389.8L87.5,390.3L88,390.7L88.5,391.1L89,391.5L89.5,391.8L90,392.1L90.5,392.4L91,392.6L91.5,392.7L92,392.8L92.5,392.9L93,392.9L93.5,392.8L94,392.6L94.5,392.4L95,392.3L95.5,392.8L96,393.3L96.5,393.8L97,394.3L97.5,394.7L98,395.2L98.5,395.7L99,396.2L99.5,396.6L100,397.1L100.5,397.5L101,397.9L101.5,398.4L102,398.8L102.5,399.2L103,399.6L103.5,400.0L104,400.4L104.5,400.8L105,401.1L105.5,401.5L106,401.8L106.5,402.2L107,402.5L107.5,402.8L108,403.1L108.5,403.4L109,403.6L109.5,403.9L110,404.1L110.5,404.4L111,404.6L111.5,404.9L112,405.1L112.5,405.4L113,405.6L113.5,405.8L114,406.1L114.5,406.3L115,406.5L115.5,406.8L116,407.0L116.5,407.2L117,407.4L117.5,407.6L118,407.9L118.5,408.1L119,408.3L119.5,408.4L120,408.6L120.5,408.8L121,409.0L121.5,409.1L122,409.3L122.5,409.4L123,409.5L123.5,409.7L124,409.8L124.5,409.9L125,410.0L125.5,410.0L126,410.1L126.5,410.1L127,410.2L127.5,410.2L128,410.2L128.5,410.2L129,410.2L129.5,410.2L130,410.2L130.5,410.2L131,410.2L131.5,410.2L132,410.2L132.5,410.2L133,410.2L133.5,410.2L134,410.2L134.5,410.2L135,410.2L135.5,410.3L136,410.5L136.5,410.7L137,411.0L137.5,411.3L138,411.7L138.5,412.1L139,412.5L139.5,412.9L140,413.2L140.5,413.5L141,413.8L141.5,413.9L142,414.1L142.5,414.2L143,414.3L143.5,414.4L144,414.5L144.5,414.6L145,414.7L145.5,414.8L146,414.9L146.5,415.0L147,415.1L147.5,415.2L148,415.2L148.5,415.3L149,415.4L149.5,415.5L150,415.5L150.5,415.6L151,415.6L151.5,415.7L152,415.8L152.5,415.8L153,415.8L153.5,415.9L154,415.9L154.5,415.9L155,416.0L155.5,416.0L156,416.0L156.5,416.0L157,416.0L157.5,415.9L158,415.8L158.5,415.5L159,415.2L159.5,414.9L160,414.7L160.5,414.5L161,414.3L161.5,414.3L162,414.3L162.5,414.4L163,414.5L163.5,414.6L164,414.7L164.5,414.9L165,415.0L165.5,415.2L166,415.5L166.5,415.7L167,415.9L167.5,416.2L168,416.4L168.5,416.7L169,417.0L169.5,417.3L170,417.6L170.5,417.9L171,418.2L171.5,418.4L172,418.7L172.5,419.0L173,419.3L173.5,419.6L174,419.8L174.5,420.1L175,420.3L175.5,420.5L176,420.7L176.5,420.9L177,421.1L177.5,421.2L178,421.4L178.5,421.5L179,421.5L179.5,421.6L180,421.6L180.5,421.6L181,421.4L181.5,421.2L182,420.9L182.5,420.6L183,420.2L183.5,419.8L184,419.4L184.5,419.0L185,418.6L185.5,418.3L186,418.0L186.5,417.7L187,417.5L187.5,417.4L188,417.4L188.5,417.5L189,417.7L189.5,418.0L190,418.3L190.5,418.5L191,418.8L191.5,418.9L192,419.0L192.5,418.9L193,418.6L193.5,418.0L194,417.3L194.5,416.5L195,415.5L195.5,414.4L196,413.2L196.5,412.6L197,414.8L197.5,417.0L198,419.2L198.5,421.2L199,423.1L199.5,424.8L200,426.1L200.5,427.1L201,427.7L201.5,427.8L202,427.9L202.5,427.9L203,427.9L203.5,427.9L204,428.0L204.5,428.0L205,428.0L205.5,428.0L206,428.0L206.5,428.0L207,428.0L207.5,428.1L208,428.1L208.5,428.1L209,428.1L209.5,428.1L210,428.2L210.5,428.2L211,428.3L211.5,428.4L212,428.6L212.5,428.8L213,429.1L213.5,429.4L214,429.8L214.5,430.1L215,430.5L215.5,430.9L216,431.3L216.5,431.7L217,432.1L217.5,432.5L218,432.9L218.5,433.2L219,433.5L219.5,433.8L220,434.0L220.5,434.2L221,434.3L221.5,434.4L222,434.6L222.5,434.7L223,434.9L223.5,435.0L224,435.1L224.5,435.2L225,435.3L225.5,435.5L226,435.6L226.5,435.7L227,435.8L227.5,435.9L228,435.9L228.5,436.0L229,436.1L229.5,436.1L230,436.2L230.5,436.2L231,436.3L231.5,436.3L232,436.3L232.5,436.3L233,436.1L233.5,435.8L234,435.4L234.5,434.9L235,434.4L235.5,433.8L236,433.2L236.5,433.9L237,435.5L237.5,437.0L238,438.3L238.5,439.3L239,439.8L239.5,440.2L240,440.6L240.5,441.0L241,441.4L241.5,441.8L242,442.1L242.5,442.5L243,442.8L243.5,443.1L244,443.4L244.5,443.6L245,443.9L245.5,444.1L246,444.4L246.5,444.6L247,444.8L247.5,445.0L248,445.2L248.5,445.3L249,445.5L249.5,445.7L250,445.8L250.5,446.0L251,446.1L251.5,446.3L252,446.4L252.5,446.6L253,446.7L253.5,446.9L254,447.0L254.5,447.1L255,447.3L255.5,447.4L256,447.6L256.5,447.7L257,447.9L257.5,448.1L258,448.2L258.5,448.4L259,448.6L259.5,448.8L260,449.0L260.5,449.2L261,449.4L261.5,449.6L262,449.8L262.5,450.0L263,450.2L263.5,450.5L264,450.7L264.5,450.9L265,451.1L265.5,451.3L266,451.5L266.5,451.7L267,451.9L267.5,452.1L268,452.3L268.5,452.5L269,452.7L269.5,452.9L270,453.1L270.5,453.3L271,453.5L271.5,453.7L272,453.9L272.5,454.1L273,454.3L273.5,454.5L274,454.7L274.5,454.9L275,455.1L275.5,455.3L276,455.5L276.5,455.6L277,455.8L277.5,456.0L278,456.2L278.5,456.4L279,456.6L279.5,456.8L280,456.9L280.5,457.1L281,457.3L281.5,457.5L282,457.6L282.5,457.8L283,458.0L283.5,458.1L284,458.3L284.5,458.4L285,458.6L285.5,458.7L286,458.9L286.5,459.0L287,459.2L287.5,459.3L288,459.4L288.5,459.5L289,459.6L289.5,459.7L290,459.8L290.5,459.8L291,459.8L291.5,459.8L292,459.8L292.5,459.7L293,459.5L293.5,459.1L294,458.6L294.5,457.9L295,456.9L295.5,455.5L296,453.7L296.5,451.6L297,449.2L297.5,447.2L298,446.1L298.5,446.4L299,448.1L299.5,450.5L300,453.1L300.5,455.5L301,457.5L301.5,459.1L302,460.4L302.5,461.4L303,462.1L303.5,462.7L304,463.2L304.5,463.5L305,463.8L305.5,464.1L306,464.3L306.5,464.6L307,464.7L307.5,464.9L308,465.1L308.5,465.2L309,465.3L309.5,465.4L310,465.6L310.5,465.7L311,465.8L311.5,465.9L312,465.9L312.5,466.0L313,466.1L313.5,466.2L314,466.3L314.5,466.3L315,466.4L315.5,466.4L316,466.5L316.5,466.6L317,466.6L317.5,466.7L318,466.7L318.5,466.8L319,466.8L319.5,466.8L320,466.9L320.5,466.9L321,466.9L321.5,467.0L322,467.0L322.5,467.0L323,467.0L323.5,467.0L324,467.0L324.5,467.0L325,466.9L325.5,466.9L326,466.8L326.5,466.7L327,466.5L327.5,466.3L328,466.0L328.5,465.6L329,465.1L329.5,464.5L330,463.6L330.5,462.6L331,461.4L331.5,460.1L332,458.7L332.5,457.4L333,456.6L333.5,456.3L334,456.7L334.5,457.6L335,458.8L335.5,459.9L336,460.8L336.5,461.4L337,461.8L337.5,461.8L338,461.5L338.5,461.1L339,460.7L339.5,460.5L340,460.8L340.5,461.5L341,462.6L341.5,463.8L342,465.0L342.5,466.0L343,466.9L343.5,467.7L344,468.3L344.5,468.8L345,469.2L345.5,469.5L346,469.8L346.5,470.1L347,470.3L347.5,470.4L348,470.6L348.5,470.8L349,470.9L349.5,471.0L350,471.1L350.5,471.2L351,471.3L351.5,471.4L352,471.5L352.5,471.6L353,471.7L353.5,471.7L354,471.8L354.5,471.9L355,471.9L355.5,472.0L356,472.0L356.5,472.1L357,472.1L357.5,472.2L358,472.2L358.5,472.3L359,472.3L359.5,472.3L360,472.3L360.5,472.4L361,472.4L361.5,472.4L362,472.4L362.5,472.4L363,472.4L363.5,472.4L364,472.4L364.5,472.4L365,472.4L365.5,472.4L366,472.4L366.5,472.4L367,472.3L367.5,472.3L368,472.3L368.5,472.2L369,472.2L369.5,472.1L370,472.1L370.5,472.0L371,471.9L371.5,471.9L372,471.8L372.5,471.7L373,471.6L373.5,471.4L374,471.3L374.5,471.1L375,470.9L375.5,470.7L376,470.4L376.5,470.0L377,469.6L377.5,469.0L378,468.3L378.5,467.2L379,465.8L379.5,463.9L380,461.6L380.5,458.7L381,455.5L381.5,452.7L382,451.0L382.5,451.4L383,453.6L383.5,456.8L384,460.2L384.5,463.2L385,465.7L385.5,467.6L386,469.0L386.5,470.1L387,470.8L387.5,471.2L388,471.4L388.5,471.3L389,470.9L389.5,470.0L390,468.8L390.5,466.9L391,464.5L391.5,461.6L392,458.5L392.5,456.1L393,455.3L393.5,456.7L394,459.7L394.5,463.3L395,466.9L395.5,469.9L396,472.3L396.5,474.2L397,475.7L397.5,476.8L398,477.7L398.5,478.3L399,478.8L399.5,479.3L400,479.6L400.5,480.0L401,480.3L401.5,480.5L402,480.7L402.5,480.9L403,481.1L403.5,481.3L404,481.5L404.5,481.6L405,481.8L405.5,481.9L406,482.1L406.5,482.2L407,482.3L407.5,482.4L408,482.5L408.5,482.6L409,482.7L409.5,482.8L410,482.9L410.5,483.0L411,483.1L411.5,483.2L412,483.3L412.5,483.3L413,483.4L413.5,483.5L414,483.5L414.5,483.6L415,483.7L415.5,483.7L416,483.7L416.5,483.8L417,483.8L417.5,483.8L418,483.8L418.5,483.7L419,483.7L419.5,483.5L420,483.2L420.5,482.8L421,482.0L421.5,481.0L422,479.7L422.5,478.4L423,477.9L423.5,478.6L424,480.0L424.5,481.4L425,482.6L425.5,483.4L426,484.0L426.5,484.4L427,484.7L427.5,484.9L428,485.1L428.5,485.3L429,485.4L429.5,485.5L430,485.6L430.5,485.7L431,485.8L431.5,485.8L432,485.9L432.5,486.0L433,486.1L433.5,486.1L434,486.2L434.5,486.2L435,486.3L435.5,486.4L436,486.4L436.5,486.5L437,486.5L437.5,486.6L438,486.6L438.5,486.7L439,486.7L439.5,486.8L440,486.8L440.5,486.9L441,486.9L441.5,487.0L442,487.0L442.5,487.0L443,487.1L443.5,487.1L444,487.2L444.5,487.2L445,487.2L445.5,487.3L446,487.3"/>
<path d="M48.0,356.8L48.5,357.4L49,358.0L49.5,358.6L50,359.2L50.5,359.8L51,360.3L51.5,360.9L52,361.5L52.5,362.1L53,362.6L53.5,363.2L54,363.7L54.5,364.3L55,364.8L55.5,365.4L56,365.9L56.5,366.5L57,367.0L57.5,367.5L58,368.1L58.5,368.6L59,369.1L59.5,369.6L60,370.2L60.5,370.7L61,371.3L61.5,372.0L62,372.6L62.5,373.2L63,373.9L63.5,374.5L64,375.1L64.5,375.7L65,376.3L65.5,376.9L66,377.4L66.5,377.8L67,378.3L67.5,378.7L68,379.0L68.5,379.2L69,379.4L69.5,379.6L70,379.6L70.5,379.6L71,379.5L71.5,379.3L72,379.1L72.5,378.8L73,378.4L73.5,378.0L74,377.6L74.5,377.1L75,376.5L75.5,375.9L76,375.3L76.5,375.8L77,377.0L77.5,378.3L78,379.5L78.5,380.7L79,381.8L79.5,382.9L80,384.0L80.5,385.0L81,385.9L81.5,386.8L82,387.6L82.5,388.3L83,389.0L83.5,389.6L84,390.2L84.5,390.8L85,391.5L85.5,392.0L86,392.6L86.5,393.2L87,393.7L87.5,394.2L88,394.7L88.5,395.2L89,395.6L89.5,396.0L90,396.3L90.5,396.6L91,396.8L91.5,397.0L92,397.1L92.5,397.2L93,397.2L93.5,397.1L94,397.0L94.5,396.8L95,396.7L95.5,397.1L96,397.6L96.5,398.0L97,398.5L97.5,398.9L98,399.3L98.5,399.8L99,400.2L99.5,400.6L100,401.0L100.5,401.4L101,401.8L101.5,402.2L102,402.6L102.5,403.0L103,403.4L103.5,403.7L104,404.1L104.5,404.5L105,404.8L105.5,405.2L106,405.5L106.5,405.8L107,406.2L107.5,406.5L108,406.8L108.5,407.1L109,407.4L109.5,407.7L110,408.0L110.5,408.2L111,408.5L111.5,408.8L112,409.1L112.5,409.4L113,409.7L113.5,410.0L114,410.3L114.5,410.5L115,410.8L115.5,411.1L116,411.4L116.5,411.7L117,412.0L117.5,412.2L118,412.5L118.5,412.8L119,413.0L119.5,413.3L120,413.5L120.5,413.7L121,413.9L121.5,414.2L122,414.4L122.5,414.5L123,414.7L123.5,414.9L124,415.0L124.5,415.1L125,415.3L125.5,415.4L126,415.4L126.5,415.5L127,415.6L127.5,415.6L128,415.6L128.5,415.6L129,415.6L129.5,415.6L130,415.6L130.5,415.5L131,415.5L131.5,415.5L132,415.5L132.5,415.5L133,415.4L133.5,415.4L134,415.4L134.5,415.4L135,415.4L135.5,415.5L136,415.6L136.5,415.9L137,416.2L137.5,416.5L138,416.8L138.5,417.2L139,417.6L139.5,417.9L140,418.2L140.5,418.5L141,418.8L141.5,418.9L142,419.1L142.5,419.2L143,419.3L143.5,419.4L144,419.5L144.5,419.6L145,419.7L145.5,419.8L146,419.9L146.5,420.0L147,420.1L147.5,420.2L148,420.2L148.5,420.3L149,420.4L149.5,420.5L150,420.5L150.5,420.6L151,420.6L151.5,420.7L152,420.7L152.5,420.8L153,420.8L153.5,420.9L154,420.9L154.5,420.9L155,421.0L155.5,421.0L156,421.0L156.5,421.0L157,421.0L157.5,420.9L158,420.8L158.5,420.6L159,420.3L159.5,420.0L160,419.8L160.5,419.5L161,419.4L161.5,419.4L162,419.4L162.5,419.5L163,419.6L163.5,419.6L164,419.8L164.5,419.9L165,420.1L165.5,420.2L166,420.4L166.5,420.6L167,420.8L167.5,421.1L168,421.3L168.5,421.5L169,421.8L169.5,422.1L170,422.3L170.5,422.6L171,422.8L171.5,423.1L172,423.3L172.5,423.6L173,423.8L173.5,424.1L174,424.3L174.5,424.5L175,424.8L175.5,425.0L176,425.1L176.5,425.3L177,425.5L177.5,425.6L178,425.7L178.5,425.8L179,425.8L179.5,425.9L180,425.9L180.5,425.9L181,425.7L181.5,425.5L182,425.3L182.5,425.0L183,424.6L183.5,424.2L184,423.9L184.5,423.5L185,423.1L185.5,422.8L186,422.5L186.5,422.3L187,422.1L187.5,422.0L188,422.0L188.5,422.1L189,422.3L189.5,422.5L190,422.8L190.5,423.1L191,423.3L191.5,423.4L192,423.5L192.5,423.4L193,423.0L193.5,422.4L194,421.6L194.5,420.7L195,419.6L195.5,418.4L196,417.1L196.5,416.4L197,418.7L197.5,420.9L198,423.2L198.5,425.3L199,427.2L199.5,428.9L200,430.3L200.5,431.3L201,431.9L201.5,432.0L202,432.1L202.5,432.1L203,432.1L203.5,432.1L204,432.2L204.5,432.2L205,432.2L205.5,432.2L206,432.2L206.5,432.2L207,432.2L207.5,432.3L208,432.3L208.5,432.3L209,432.3L209.5,432.3L210,432.4L210.5,432.4L211,432.5L211.5,432.6L212,432.7L212.5,432.9L213,433.2L213.5,433.4L214,433.7L214.5,434.0L215,434.3L215.5,434.6L216,435.0L216.5,435.3L217,435.6L217.5,435.9L218,436.2L218.5,436.5L219,436.8L219.5,437.0L220,437.2L220.5,437.4L221,437.5L221.5,437.6L222,437.8L222.5,437.9L223,438.0L223.5,438.2L224,438.3L224.5,438.4L225,438.5L225.5,438.6L226,438.7L226.5,438.9L227,438.9L227.5,439.0L228,439.1L228.5,439.2L229,439.3L229.5,439.3L230,439.4L230.5,439.4L231,439.5L231.5,439.5L232,439.5L232.5,439.5L233,439.2L233.5,438.7L234,438.1L234.5,437.3L235,436.4L235.5,435.5L236,434.6L236.5,435.3L237,437.4L237.5,439.4L238,441.1L238.5,442.2L239,442.8L239.5,443.3L240,443.7L240.5,444.2L241,444.6L241.5,445.0L242,445.4L242.5,445.7L243,446.0L243.5,446.4L244,446.7L244.5,446.9L245,447.2L245.5,447.5L246,447.7L246.5,447.9L247,448.1L247.5,448.3L248,448.5L248.5,448.7L249,448.9L249.5,449.1L250,449.2L250.5,449.4L251,449.5L251.5,449.7L252,449.8L252.5,450.0L253,450.1L253.5,450.3L254,450.4L254.5,450.5L255,450.7L255.5,450.8L256,451.0L256.5,451.1L257,451.3L257.5,451.4L258,451.6L258.5,451.8L259,452.0L259.5,452.2L260,452.4L260.5,452.6L261,452.8L261.5,453.0L262,453.3L262.5,453.5L263,453.7L263.5,453.9L264,454.1L264.5,454.3L265,454.5L265.5,454.7L266,454.9L266.5,455.2L267,455.4L267.5,455.6L268,455.8L268.5,456.0L269,456.2L269.5,456.4L270,456.6L270.5,456.8L271,457.0L271.5,457.2L272,457.4L272.5,457.6L273,457.8L273.5,458.0L274,458.2L274.5,458.4L275,458.6L275.5,458.8L276,459.0L276.5,459.2L277,459.4L277.5,459.5L278,459.7L278.5,459.9L279,460.1L279.5,460.3L280,460.5L280.5,460.6L281,460.8L281.5,461.0L282,461.2L282.5,461.4L283,461.5L283.5,461.7L284,461.9L284.5,462.0L285,462.2L285.5,462.3L286,462.5L286.5,462.6L287,462.7L287.5,462.9L288,463.0L288.5,463.1L289,463.2L289.5,463.3L290,463.4L290.5,463.5L291,463.5L291.5,463.5L292,463.5L292.5,463.4L293,463.2L293.5,462.9L294,462.4L294.5,461.7L295,460.7L295.5,459.4L296,457.6L296.5,455.5L297,453.2L297.5,451.2L298,450.1L298.5,450.4L299,452.1L299.5,454.5L300,457.1L300.5,459.5L301,461.4L301.5,463.0L302,464.3L302.5,465.2L303,466.0L303.5,466.5L304,466.9L304.5,467.3L305,467.5L305.5,467.8L306,468.0L306.5,468.1L307,468.3L307.5,468.4L308,468.5L308.5,468.6L309,468.7L309.5,468.8L310,468.9L310.5,468.9L311,469.0L311.5,469.0L312,469.1L312.5,469.1L313,469.2L313.5,469.2L314,469.3L314.5,469.3L315,469.3L315.5,469.4L316,469.4L316.5,469.4L317,469.4L317.5,469.5L318,469.5L318.5,469.5L319,469.5L319.5,469.5L320,469.6L320.5,469.6L321,469.6L321.5,469.6L322,469.6L322.5,469.6L323,469.6L323.5,469.6L324,469.6L324.5,469.6L325,469.5L325.5,469.5L326,469.4L326.5,469.3L327,469.2L327.5,469.0L328,468.7L328.5,468.4L329,468.0L329.5,467.4L330,466.7L330.5,465.9L331,464.9L331.5,463.8L332,462.6L332.5,461.5L333,460.8L333.5,460.6L334,461.0L334.5,461.7L335,462.7L335.5,463.7L336,464.5L336.5,465.1L337,465.4L337.5,465.4L338,465.2L338.5,464.9L339,464.5L339.5,464.4L340,464.7L340.5,465.3L341,466.3L341.5,467.3L342,468.3L342.5,469.2L343,470.0L343.5,470.7L344,471.2L344.5,471.7L345,472.1L345.5,472.4L346,472.6L346.5,472.9L347,473.1L347.5,473.2L348,473.4L348.5,473.6L349,473.7L349.5,473.8L350,473.9L350.5,474.1L351,474.2L351.5,474.3L352,474.4L352.5,474.5L353,474.6L353.5,474.6L354,474.7L354.5,474.8L355,474.9L355.5,474.9L356,475.0L356.5,475.1L357,475.1L357.5,475.2L358,475.2L358.5,475.3L359,475.3L359.5,475.4L360,475.4L360.5,475.5L361,475.5L361.5,475.5L362,475.5L362.5,475.6L363,475.6L363.5,475.6L364,475.6L364.5,475.6L365,475.6L365.5,475.6L366,475.6L366.5,475.6L367,475.6L367.5,475.5L368,475.5L368.5,475.5L369,475.4L369.5,475.4L370,475.4L370.5,475.3L371,475.3L371.5,475.2L372,475.1L372.5,475.0L373,474.9L373.5,474.8L374,474.7L374.5,474.5L375,474.3L375.5,474.1L376,473.8L376.5,473.4L377,473.0L377.5,472.4L378,471.6L378.5,470.6L379,469.2L379.5,467.3L380,464.9L380.5,461.9L381,458.7L381.5,455.8L382,454.1L382.5,454.5L383,456.9L383.5,460.3L384,463.8L384.5,466.9L385,469.5L385.5,471.5L386,473.1L386.5,474.2L387,474.9L387.5,475.4L388,475.6L388.5,475.5L389,475.1L389.5,474.2L390,472.8L390.5,470.8L391,468.2L391.5,465.0L392,461.7L392.5,459.1L393,458.2L393.5,459.7L394,462.9L394.5,466.9L395,470.7L395.5,473.9L396,476.6L396.5,478.6L397,480.2L397.5,481.3L398,482.2L398.5,482.8L399,483.3L399.5,483.8L400,484.1L400.5,484.4L401,484.7L401.5,484.9L402,485.1L402.5,485.2L403,485.4L403.5,485.5L404,485.6L404.5,485.8L405,485.9L405.5,486.0L406,486.0L406.5,486.1L407,486.2L407.5,486.3L408,486.3L408.5,486.4L409,486.5L409.5,486.5L410,486.6L410.5,486.6L411,486.7L411.5,486.7L412,486.8L412.5,486.8L413,486.9L413.5,486.9L414,486.9L414.5,487.0L415,487.0L415.5,487.0L416,487.1L416.5,487.1L417,487.1L417.5,487.1L418,487.1L418.5,487.0L419,487.0L419.5,486.8L420,486.6L420.5,486.2L421,485.5L421.5,484.6L422,483.5L422.5,482.4L423,481.9L423.5,482.5L424,483.7L424.5,485.0L425,486.0L425.5,486.8L426,487.3L426.5,487.7L427,488.0L427.5,488.2L428,488.3L428.5,488.5L429,488.6L429.5,488.7L430,488.8L430.5,488.9L431,489.0L431.5,489.1L432,489.2L432.5,489.3L433,489.3L433.5,489.4L434,489.5L434.5,489.6L435,489.6L435.5,489.7L436,489.8L436.5,489.9L437,489.9L437.5,490.0L438,490.1L438.5,490.2L439,490.2L439.5,490.3L440,490.4L440.5,490.5L441,490.5L441.5,490.6L442,490.7L442.5,490.8L443,490.8L443.5,490.9L444,491.0L444.5,491.1L445,491.1L445.5,491.2L446,491.3"/>
<path d="M48.0,367.3L48.5,367.9L49,368.4L49.5,369.0L50,369.6L50.5,370.1L51,370.7L51.5,371.2L52,371.8L52.5,372.3L53,372.9L53.5,373.4L54,374.0L54.5,374.5L55,375.0L55.5,375.6L56,376.1L56.5,376.7L57,377.2L57.5,377.7L58,378.2L58.5,378.8L59,379.3L59.5,379.8L60,380.4L60.5,381.0L61,381.6L61.5,382.2L62,382.9L62.5,383.6L63,384.2L63.5,384.9L64,385.5L64.5,386.2L65,386.8L65.5,387.4L66,387.9L66.5,388.4L67,388.9L67.5,389.3L68,389.6L68.5,389.9L69,390.1L69.5,390.3L70,390.3L70.5,390.3L71,390.2L71.5,390.1L72,389.9L72.5,389.6L73,389.4L73.5,389.0L74,388.6L74.5,388.2L75,387.7L75.5,387.2L76,386.6L76.5,387.2L77,388.4L77.5,389.7L78,390.9L78.5,392.0L79,393.2L79.5,394.3L80,395.3L80.5,396.3L81,397.3L81.5,398.2L82,399.0L82.5,399.7L83,400.4L83.5,401.0L84,401.7L84.5,402.3L85,402.9L85.5,403.5L86,404.1L86.5,404.7L87,405.2L87.5,405.8L88,406.3L88.5,406.7L89,407.2L89.5,407.5L90,407.9L90.5,408.2L91,408.4L91.5,408.6L92,408.7L92.5,408.8L93,408.8L93.5,408.8L94,408.7L94.5,408.6L95,408.6L95.5,409.0L96,409.4L96.5,409.8L97,410.2L97.5,410.6L98,411.0L98.5,411.4L99,411.8L99.5,412.2L100,412.6L100.5,412.9L101,413.3L101.5,413.7L102,414.0L102.5,414.4L103,414.8L103.5,415.1L104,415.4L104.5,415.8L105,416.1L105.5,416.4L106,416.8L106.5,417.1L107,417.4L107.5,417.7L108,418.0L108.5,418.2L109,418.5L109.5,418.8L110,419.1L110.5,419.3L111,419.6L111.5,419.9L112,420.1L112.5,420.4L113,420.7L113.5,421.0L114,421.2L114.5,421.5L115,421.8L115.5,422.1L116,422.4L116.5,422.6L117,422.9L117.5,423.1L118,423.4L118.5,423.7L119,423.9L119.5,424.1L120,424.4L120.5,424.6L121,424.8L121.5,425.0L122,425.2L122.5,425.4L123,425.5L123.5,425.7L124,425.8L124.5,426.0L125,426.1L125.5,426.2L126,426.3L126.5,426.3L127,426.4L127.5,426.4L128,426.4L128.5,426.4L129,426.4L129.5,426.4L130,426.4L130.5,426.4L131,426.4L131.5,426.4L132,426.4L132.5,426.4L133,426.4L133.5,426.4L134,426.4L134.5,426.4L135,426.4L135.5,426.5L136,426.6L136.5,426.8L137,427.0L137.5,427.3L138,427.6L138.5,427.9L139,428.2L139.5,428.5L140,428.8L140.5,429.0L141,429.3L141.5,429.4L142,429.6L142.5,429.7L143,429.8L143.5,430.0L144,430.1L144.5,430.2L145,430.3L145.5,430.4L146,430.5L146.5,430.7L147,430.8L147.5,430.9L148,431.0L148.5,431.1L149,431.2L149.5,431.3L150,431.4L150.5,431.4L151,431.5L151.5,431.6L152,431.7L152.5,431.7L153,431.8L153.5,431.8L154,431.9L154.5,431.9L155,431.9L155.5,432.0L156,432.0L156.5,432.0L157,432.0L157.5,432.0L158,431.8L158.5,431.6L159,431.4L159.5,431.2L160,431.0L160.5,430.8L161,430.7L161.5,430.7L162,430.7L162.5,430.8L163,430.9L163.5,431.0L164,431.1L164.5,431.2L165,431.4L165.5,431.6L166,431.8L166.5,432.0L167,432.2L167.5,432.4L168,432.7L168.5,432.9L169,433.2L169.5,433.5L170,433.7L170.5,434.0L171,434.3L171.5,434.6L172,434.8L172.5,435.1L173,435.4L173.5,435.6L174,435.8L174.5,436.1L175,436.3L175.5,436.5L176,436.7L176.5,436.9L177,437.0L177.5,437.2L178,437.3L178.5,437.4L179,437.4L179.5,437.5L180,437.5L180.5,437.5L181,437.3L181.5,437.2L182,436.9L182.5,436.7L183,436.3L183.5,436.0L184,435.7L184.5,435.3L185,435.0L185.5,434.7L186,434.5L186.5,434.3L187,434.1L187.5,434.0L188,434.0L188.5,434.1L189,434.3L189.5,434.5L190,434.8L190.5,435.1L191,435.3L191.5,435.4L192,435.5L192.5,435.4L193,435.0L193.5,434.5L194,433.8L194.5,432.9L195,431.9L195.5,430.7L196,429.5L196.5,428.8L197,430.5L197.5,432.2L198,433.9L198.5,435.5L199,436.9L199.5,438.2L200,439.4L200.5,440.3L201,440.9L201.5,441.3L202,441.6L202.5,441.9L203,442.1L203.5,442.4L204,442.5L204.5,442.7L205,442.9L205.5,443.0L206,443.1L206.5,443.3L207,443.4L207.5,443.5L208,443.6L208.5,443.8L209,443.9L209.5,444.0L210,444.2L210.5,444.4L211,444.6L211.5,444.8L212,445.1L212.5,445.3L213,445.5L213.5,445.8L214,446.1L214.5,446.3L215,446.6L215.5,446.9L216,447.1L216.5,447.4L217,447.6L217.5,447.9L218,448.1L218.5,448.3L219,448.5L219.5,448.7L220,448.8L220.5,449.0L221,449.1L221.5,449.2L222,449.4L222.5,449.5L223,449.6L223.5,449.7L224,449.8L224.5,450.0L225,450.1L225.5,450.2L226,450.3L226.5,450.4L227,450.5L227.5,450.6L228,450.6L228.5,450.7L229,450.8L229.5,450.8L230,450.9L230.5,450.9L231,451.0L231.5,451.0L232,451.0L232.5,451.0L233,450.9L233.5,450.7L234,450.4L234.5,450.1L235,449.7L235.5,449.3L236,448.9L236.5,449.4L237,450.7L237.5,451.9L238,453.0L238.5,453.8L239,454.2L239.5,454.6L240,455.0L240.5,455.3L241,455.6L241.5,455.9L242,456.2L242.5,456.5L243,456.7L243.5,457.0L244,457.2L244.5,457.4L245,457.6L245.5,457.8L246,458.0L246.5,458.2L247,458.3L247.5,458.5L248,458.7L248.5,458.8L249,458.9L249.5,459.1L250,459.2L250.5,459.3L251,459.5L251.5,459.6L252,459.7L252.5,459.8L253,460.0L253.5,460.1L254,460.2L254.5,460.3L255,460.4L255.5,460.6L256,460.7L256.5,460.8L257,461.0L257.5,461.1L258,461.3L258.5,461.5L259,461.6L259.5,461.8L260,462.0L260.5,462.2L261,462.4L261.5,462.6L262,462.8L262.5,463.0L263,463.2L263.5,463.4L264,463.7L264.5,463.9L265,464.1L265.5,464.3L266,464.5L266.5,464.7L267,465.0L267.5,465.2L268,465.4L268.5,465.6L269,465.9L269.5,466.1L270,466.3L270.5,466.5L271,466.8L271.5,467.0L272,467.2L272.5,467.4L273,467.6L273.5,467.9L274,468.1L274.5,468.3L275,468.5L275.5,468.7L276,468.9L276.5,469.1L277,469.3L277.5,469.5L278,469.7L278.5,469.9L279,470.1L279.5,470.3L280,470.5L280.5,470.7L281,470.8L281.5,471.0L282,471.2L282.5,471.3L283,471.5L283.5,471.6L284,471.7L284.5,471.9L285,472.0L285.5,472.1L286,472.2L286.5,472.3L287,472.4L287.5,472.5L288,472.6L288.5,472.7L289,472.7L289.5,472.8L290,472.8L290.5,472.8L291,472.8L291.5,472.7L292,472.6L292.5,472.5L293,472.2L293.5,471.8L294,471.3L294.5,470.5L295,469.4L295.5,468.0L296,466.2L296.5,464.1L297,461.8L297.5,459.7L298,458.6L298.5,458.8L299,460.4L299.5,462.8L300,465.3L300.5,467.6L301,469.5L301.5,471.1L302,472.3L302.5,473.2L303,473.9L303.5,474.5L304,474.9L304.5,475.3L305,475.6L305.5,475.9L306,476.1L306.5,476.3L307,476.5L307.5,476.6L308,476.8L308.5,476.9L309,477.0L309.5,477.1L310,477.3L310.5,477.4L311,477.5L311.5,477.6L312,477.6L312.5,477.7L313,477.8L313.5,477.9L314,478.0L314.5,478.0L315,478.1L315.5,478.2L316,478.2L316.5,478.3L317,478.4L317.5,478.4L318,478.5L318.5,478.5L319,478.6L319.5,478.6L320,478.7L320.5,478.7L321,478.7L321.5,478.8L322,478.8L322.5,478.8L323,478.8L323.5,478.8L324,478.8L324.5,478.8L325,478.8L325.5,478.7L326,478.6L326.5,478.5L327,478.4L327.5,478.2L328,477.9L328.5,477.6L329,477.1L329.5,476.5L330,475.8L330.5,474.8L331,473.7L331.5,472.5L332,471.2L332.5,470.1L333,469.2L333.5,469.0L334,469.4L334.5,470.2L335,471.3L335.5,472.3L336,473.2L336.5,473.8L337,474.1L337.5,474.1L338,473.9L338.5,473.5L339,473.1L339.5,472.9L340,473.2L340.5,473.9L341,474.9L341.5,476.0L342,477.1L342.5,478.1L343,479.0L343.5,479.7L344,480.3L344.5,480.8L345,481.2L345.5,481.5L346,481.7L346.5,482.0L347,482.2L347.5,482.3L348,482.5L348.5,482.6L349,482.8L349.5,482.9L350,483.0L350.5,483.1L351,483.2L351.5,483.3L352,483.4L352.5,483.5L353,483.5L353.5,483.6L354,483.7L354.5,483.8L355,483.8L355.5,483.9L356,483.9L356.5,484.0L357,484.0L357.5,484.1L358,484.1L358.5,484.1L359,484.2L359.5,484.2L360,484.2L360.5,484.3L361,484.3L361.5,484.3L362,484.3L362.5,484.3L363,484.3L363.5,484.3L364,484.3L364.5,484.3L365,484.3L365.5,484.3L366,484.3L366.5,484.2L367,484.2L367.5,484.2L368,484.1L368.5,484.1L369,484.0L369.5,483.9L370,483.8L370.5,483.7L371,483.7L371.5,483.6L372,483.4L372.5,483.3L373,483.2L373.5,483.1L374,482.9L374.5,482.7L375,482.5L375.5,482.3L376,482.0L376.5,481.7L377,481.2L377.5,480.7L378,479.9L378.5,478.9L379,477.6L379.5,475.8L380,473.5L380.5,470.8L381,467.7L381.5,465.0L382,463.4L382.5,463.7L383,465.9L383.5,469.0L384,472.3L384.5,475.1L385,477.5L385.5,479.4L386,480.7L386.5,481.7L387,482.4L387.5,482.8L388,483.0L388.5,482.9L389,482.5L389.5,481.7L390,480.5L390.5,478.7L391,476.4L391.5,473.6L392,470.7L392.5,468.4L393,467.6L393.5,468.9L394,471.7L394.5,475.2L395,478.5L395.5,481.4L396,483.7L396.5,485.5L397,486.8L397.5,487.8L398,488.6L398.5,489.2L399,489.6L399.5,490.0L400,490.3L400.5,490.6L401,490.8L401.5,491.0L402,491.2L402.5,491.3L403,491.5L403.5,491.6L404,491.7L404.5,491.8L405,491.9L405.5,492.0L406,492.1L406.5,492.2L407,492.3L407.5,492.3L408,492.4L408.5,492.5L409,492.5L409.5,492.6L410,492.6L410.5,492.7L411,492.7L411.5,492.8L412,492.8L412.5,492.9L413,492.9L413.5,493.0L414,493.0L414.5,493.0L415,493.1L415.5,493.1L416,493.1L416.5,493.2L417,493.2L417.5,493.2L418,493.2L418.5,493.2L419,493.1L419.5,493.0L420,492.8L420.5,492.5L421,492.0L421.5,491.2L422,490.3L422.5,489.4L423,489.0L423.5,489.5L424,490.5L424.5,491.6L425,492.5L425.5,493.1L426,493.6L426.5,493.9L427,494.2L427.5,494.3L428,494.5L428.5,494.6L429,494.7L429.5,494.8L430,494.9L430.5,495.0L431,495.1L431.5,495.2L432,495.3L432.5,495.4L433,495.5L433.5,495.5L434,495.6L434.5,495.7L435,495.8L435.5,495.8L436,495.9L436.5,496.0L437,496.1L437.5,496.2L438,496.2L438.5,496.3L439,496.4L439.5,496.5L440,496.5L440.5,496.6L441,496.7L441.5,496.8L442,496.9L442.5,496.9L443,497.0L443.5,497.1L444,497.2L444.5,497.3L445,497.3L445.5,497.4L446,497.5"/>
<path d="M48.0,377.7L48.5,378.2L49,378.7L49.5,379.3L50,379.8L50.5,380.3L51,380.8L51.5,381.4L52,381.9L52.5,382.4L53,383.0L53.5,383.5L54,384.0L54.5,384.5L55,385.1L55.5,385.6L56,386.1L56.5,386.6L57,387.2L57.5,387.7L58,388.2L58.5,388.8L59,389.3L59.5,389.8L60,390.4L60.5,391.0L61,391.7L61.5,392.4L62,393.0L62.5,393.8L63,394.5L63.5,395.2L64,395.9L64.5,396.5L65,397.2L65.5,397.8L66,398.4L66.5,399.0L67,399.5L67.5,399.9L68,400.3L68.5,400.6L69,400.8L69.5,401.0L70,401.0L70.5,401.0L71,400.9L71.5,400.8L72,400.6L72.5,400.4L73,400.1L73.5,399.8L74,399.4L74.5,399.0L75,398.5L75.5,398.0L76,397.4L76.5,397.8L77,398.8L77.5,399.9L78,400.9L78.5,401.8L79,402.8L79.5,403.7L80,404.6L80.5,405.5L81,406.3L81.5,407.2L82,407.9L82.5,408.7L83,409.4L83.5,410.1L84,410.8L84.5,411.6L85,412.3L85.5,413.0L86,413.8L86.5,414.5L87,415.2L87.5,415.9L88,416.6L88.5,417.2L89,417.8L89.5,418.3L90,418.7L90.5,419.1L91,419.5L91.5,419.7L92,419.9L92.5,420.0L93,420.0L93.5,420.0L94,420.0L94.5,419.9L95,419.9L95.5,420.2L96,420.5L96.5,420.7L97,421.0L97.5,421.3L98,421.6L98.5,421.9L99,422.2L99.5,422.5L100,422.8L100.5,423.1L101,423.4L101.5,423.7L102,424.0L102.5,424.3L103,424.6L103.5,424.8L104,425.1L104.5,425.4L105,425.7L105.5,426.0L106,426.3L106.5,426.6L107,426.9L107.5,427.1L108,427.4L108.5,427.7L109,428.0L109.5,428.3L110,428.6L110.5,428.8L111,429.2L111.5,429.5L112,429.8L112.5,430.1L113,430.5L113.5,430.8L114,431.2L114.5,431.5L115,431.9L115.5,432.3L116,432.6L116.5,433.0L117,433.4L117.5,433.7L118,434.1L118.5,434.4L119,434.8L119.5,435.1L120,435.4L120.5,435.7L121,436.0L121.5,436.3L122,436.6L122.5,436.9L123,437.1L123.5,437.3L124,437.6L124.5,437.7L125,437.9L125.5,438.1L126,438.2L126.5,438.3L127,438.3L127.5,438.4L128,438.4L128.5,438.4L129,438.4L129.5,438.4L130,438.4L130.5,438.4L131,438.4L131.5,438.4L132,438.4L132.5,438.4L133,438.4L133.5,438.4L134,438.4L134.5,438.4L135,438.4L135.5,438.5L136,438.6L136.5,438.8L137,439.0L137.5,439.3L138,439.6L138.5,439.9L139,440.2L139.5,440.5L140,440.8L140.5,441.0L141,441.2L141.5,441.4L142,441.6L142.5,441.7L143,441.9L143.5,442.0L144,442.2L144.5,442.3L145,442.4L145.5,442.6L146,442.7L146.5,442.9L147,443.0L147.5,443.1L148,443.2L148.5,443.4L149,443.5L149.5,443.6L150,443.7L150.5,443.8L151,443.9L151.5,444.0L152,444.1L152.5,444.1L153,444.2L153.5,444.3L154,444.3L154.5,444.4L155,444.4L155.5,444.5L156,444.5L156.5,444.5L157,444.5L157.5,444.4L158,444.3L158.5,444.1L159,443.8L159.5,443.6L160,443.3L160.5,443.1L161,443.0L161.5,443.0L162,443.0L162.5,443.1L163,443.1L163.5,443.2L164,443.3L164.5,443.5L165,443.6L165.5,443.8L166,443.9L166.5,444.1L167,444.3L167.5,444.5L168,444.8L168.5,445.0L169,445.2L169.5,445.4L170,445.7L170.5,445.9L171,446.2L171.5,446.4L172,446.6L172.5,446.9L173,447.1L173.5,447.3L174,447.5L174.5,447.7L175,447.9L175.5,448.1L176,448.3L176.5,448.4L177,448.6L177.5,448.7L178,448.8L178.5,448.9L179,449.0L179.5,449.0L180,449.0L180.5,449.0L181,448.8L181.5,448.7L182,448.4L182.5,448.2L183,447.8L183.5,447.5L184,447.2L184.5,446.8L185,446.5L185.5,446.2L186,446.0L186.5,445.8L187,445.6L187.5,445.5L188,445.5L188.5,445.6L189,445.8L189.5,446.0L190,446.3L190.5,446.6L191,446.8L191.5,446.9L192,447.0L192.5,446.9L193,446.5L193.5,446.0L194,445.3L194.5,444.4L195,443.4L195.5,442.2L196,441.0L196.5,440.3L197,442.0L197.5,443.7L198,445.3L198.5,446.9L199,448.3L199.5,449.6L200,450.8L200.5,451.6L201,452.3L201.5,452.6L202,452.9L202.5,453.1L203,453.3L203.5,453.5L204,453.7L204.5,453.8L205,454.0L205.5,454.1L206,454.2L206.5,454.3L207,454.4L207.5,454.5L208,454.6L208.5,454.7L209,454.8L209.5,455.0L210,455.1L210.5,455.3L211,455.5L211.5,455.7L212,455.9L212.5,456.2L213,456.4L213.5,456.7L214,456.9L214.5,457.2L215,457.5L215.5,457.8L216,458.0L216.5,458.3L217,458.6L217.5,458.8L218,459.0L218.5,459.3L219,459.5L219.5,459.7L220,459.8L220.5,460.0L221,460.1L221.5,460.2L222,460.4L222.5,460.5L223,460.6L223.5,460.7L224,460.8L224.5,461.0L225,461.1L225.5,461.2L226,461.3L226.5,461.4L227,461.5L227.5,461.6L228,461.6L228.5,461.7L229,461.8L229.5,461.8L230,461.9L230.5,461.9L231,462.0L231.5,462.0L232,462.0L232.5,462.0L233,461.8L233.5,461.4L234,460.9L234.5,460.3L235,459.7L235.5,459.0L236,458.3L236.5,458.8L237,460.3L237.5,461.7L238,462.9L238.5,463.8L239,464.2L239.5,464.6L240,464.9L240.5,465.3L241,465.6L241.5,465.9L242,466.2L242.5,466.4L243,466.7L243.5,466.9L244,467.1L244.5,467.3L245,467.5L245.5,467.7L246,467.9L246.5,468.1L247,468.2L247.5,468.4L248,468.5L248.5,468.7L249,468.8L249.5,468.9L250,469.0L250.5,469.1L251,469.3L251.5,469.4L252,469.5L252.5,469.6L253,469.7L253.5,469.8L254,469.9L254.5,470.0L255,470.2L255.5,470.3L256,470.4L256.5,470.5L257,470.7L257.5,470.8L258,470.9L258.5,471.1L259,471.2L259.5,471.4L260,471.6L260.5,471.8L261,472.0L261.5,472.2L262,472.4L262.5,472.6L263,472.8L263.5,473.0L264,473.2L264.5,473.4L265,473.6L265.5,473.8L266,474.0L266.5,474.2L267,474.4L267.5,474.6L268,474.8L268.5,475.1L269,475.3L269.5,475.5L270,475.7L270.5,475.9L271,476.1L271.5,476.3L272,476.5L272.5,476.7L273,477.0L273.5,477.2L274,477.4L274.5,477.6L275,477.8L275.5,478.0L276,478.2L276.5,478.4L277,478.5L277.5,478.7L278,478.9L278.5,479.1L279,479.3L279.5,479.4L280,479.6L280.5,479.8L281,479.9L281.5,480.1L282,480.2L282.5,480.4L283,480.5L283.5,480.7L284,480.8L284.5,480.9L285,481.0L285.5,481.1L286,481.2L286.5,481.3L287,481.4L287.5,481.5L288,481.5L288.5,481.6L289,481.6L289.5,481.7L290,481.7L290.5,481.7L291,481.7L291.5,481.6L292,481.5L292.5,481.3L293,481.1L293.5,480.7L294,480.2L294.5,479.5L295,478.4L295.5,477.1L296,475.4L296.5,473.3L297,471.1L297.5,469.2L298,468.1L298.5,468.3L299,469.8L299.5,472.0L300,474.4L300.5,476.6L301,478.4L301.5,479.8L302,481.0L302.5,481.8L303,482.5L303.5,483.0L304,483.4L304.5,483.7L305,484.0L305.5,484.2L306,484.4L306.5,484.5L307,484.7L307.5,484.8L308,484.9L308.5,485.0L309,485.1L309.5,485.2L310,485.3L310.5,485.3L311,485.4L311.5,485.5L312,485.5L312.5,485.6L313,485.6L313.5,485.7L314,485.7L314.5,485.8L315,485.8L315.5,485.8L316,485.9L316.5,485.9L317,486.0L317.5,486.0L318,486.0L318.5,486.0L319,486.1L319.5,486.1L320,486.1L320.5,486.1L321,486.2L321.5,486.2L322,486.2L322.5,486.2L323,486.2L323.5,486.2L324,486.2L324.5,486.2L325,486.2L325.5,486.1L326,486.1L326.5,486.0L327,485.8L327.5,485.7L328,485.4L328.5,485.1L329,484.7L329.5,484.2L330,483.5L330.5,482.6L331,481.6L331.5,480.5L332,479.3L332.5,478.2L333,477.5L333.5,477.3L334,477.7L334.5,478.5L335,479.5L335.5,480.5L336,481.3L336.5,481.8L337,482.1L337.5,482.1L338,481.8L338.5,481.4L339,481.0L339.5,480.9L340,481.2L340.5,481.9L341,482.9L341.5,484.1L342,485.2L342.5,486.3L343,487.1L343.5,487.9L344,488.5L344.5,489.0L345,489.4L345.5,489.8L346,490.1L346.5,490.3L347,490.6L347.5,490.8L348,491.0L348.5,491.1L349,491.3L349.5,491.5L350,491.6L350.5,491.7L351,491.9L351.5,492.0L352,492.1L352.5,492.2L353,492.3L353.5,492.4L354,492.5L354.5,492.6L355,492.7L355.5,492.8L356,492.9L356.5,493.0L357,493.0L357.5,493.1L358,493.1L358.5,493.2L359,493.3L359.5,493.3L360,493.4L360.5,493.4L361,493.4L361.5,493.5L362,493.5L362.5,493.5L363,493.5L363.5,493.5L364,493.5L364.5,493.5L365,493.5L365.5,493.5L366,493.5L366.5,493.4L367,493.4L367.5,493.3L368,493.2L368.5,493.1L369,493.0L369.5,492.8L370,492.7L370.5,492.5L371,492.4L371.5,492.2L372,492.0L372.5,491.9L373,491.7L373.5,491.5L374,491.3L374.5,491.0L375,490.8L375.5,490.5L376,490.2L376.5,489.8L377,489.4L377.5,488.8L378,488.0L378.5,486.9L379,485.5L379.5,483.6L380,481.2L380.5,478.2L381,475.0L381.5,472.0L382,470.3L382.5,470.7L383,473.0L383.5,476.4L384,479.8L384.5,482.9L385,485.5L385.5,487.5L386,489.0L386.5,490.1L387,490.8L387.5,491.3L388,491.5L388.5,491.4L389,491.1L389.5,490.3L390,489.1L390.5,487.3L391,485.0L391.5,482.2L392,479.3L392.5,477.0L393,476.2L393.5,477.5L394,480.3L394.5,483.8L395,487.1L395.5,490.0L396,492.3L396.5,494.0L397,495.4L397.5,496.3L398,497.1L398.5,497.6L399,498.0L399.5,498.4L400,498.7L400.5,498.9L401,499.1L401.5,499.3L402,499.4L402.5,499.5L403,499.7L403.5,499.8L404,499.8L404.5,499.9L405,500.0L405.5,500.1L406,500.1L406.5,500.2L407,500.2L407.5,500.3L408,500.3L408.5,500.3L409,500.4L409.5,500.4L410,500.4L410.5,500.5L411,500.5L411.5,500.5L412,500.6L412.5,500.6L413,500.6L413.5,500.6L414,500.6L414.5,500.7L415,500.7L415.5,500.7L416,500.7L416.5,500.7L417,500.7L417.5,500.7L418,500.7L418.5,500.6L419,500.6L419.5,500.4L420,500.2L420.5,499.9L421,499.4L421.5,498.7L422,497.8L422.5,496.9L423,496.5L423.5,497.0L424,498.0L424.5,499.0L425,499.8L425.5,500.4L426,500.9L426.5,501.2L427,501.4L427.5,501.6L428,501.7L428.5,501.8L429,501.9L429.5,502.0L430,502.1L430.5,502.2L431,502.3L431.5,502.4L432,502.5L432.5,502.6L433,502.7L433.5,502.8L434,502.8L434.5,502.9L435,503.0L435.5,503.1L436,503.2L436.5,503.3L437,503.3L437.5,503.4L438,503.5L438.5,503.6L439,503.7L439.5,503.8L440,503.9L440.5,504.0L441,504.1L441.5,504.1L442,504.2L442.5,504.3L443,504.4L443.5,504.5L444,504.6L444.5,504.7L445,504.8L445.5,504.9L446,505.0"/>
<path d="M48.0,396.2L48.5,396.8L49,397.3L49.5,397.9L50,398.4L50.5,399.0L51,399.5L51.5,400.1L52,400.6L52.5,401.2L53,401.7L53.5,402.3L54,402.8L54.5,403.4L55,403.9L55.5,404.5L56,405.0L56.5,405.6L57,406.1L57.5,406.7L58,407.2L58.5,407.7L59,408.3L59.5,408.8L60,409.4L60.5,410.0L61,410.7L61.5,411.4L62,412.1L62.5,412.8L63,413.5L63.5,414.2L64,414.9L64.5,415.6L65,416.3L65.5,416.9L66,417.5L66.5,418.1L67,418.7L67.5,419.2L68,419.6L68.5,420.0L69,420.3L69.5,420.5L70,420.7L70.5,420.8L71,420.8L71.5,420.7L72,420.6L72.5,420.3L73,420.1L73.5,419.7L74,419.3L74.5,418.9L75,418.4L75.5,417.8L76,417.2L76.5,417.0L77,418.4L77.5,419.7L78,421.1L78.5,422.3L79,423.6L79.5,424.8L80,425.9L80.5,426.9L81,427.9L81.5,428.8L82,429.6L82.5,430.4L83,431.0L83.5,431.6L84,432.1L84.5,432.5L85,433.0L85.5,433.4L86,433.8L86.5,434.1L87,434.5L87.5,434.8L88,435.1L88.5,435.5L89,435.8L89.5,436.1L90,436.5L90.5,436.8L91,437.2L91.5,437.6L92,438.0L92.5,438.4L93,438.8L93.5,439.2L94,439.5L94.5,439.9L95,440.3L95.5,440.8L96,441.2L96.5,441.7L97,442.2L97.5,442.6L98,443.1L98.5,443.5L99,444.0L99.5,444.4L100,444.8L100.5,445.3L101,445.7L101.5,446.1L102,446.5L102.5,446.9L103,447.3L103.5,447.7L104,448.1L104.5,448.4L105,448.8L105.5,449.1L106,449.5L106.5,449.8L107,450.2L107.5,450.5L108,450.8L108.5,451.1L109,451.4L109.5,451.7L110,452.0L110.5,452.3L111,452.5L111.5,452.8L112,453.1L112.5,453.3L113,453.6L113.5,453.8L114,454.1L114.5,454.3L115,454.5L115.5,454.8L116,455.0L116.5,455.2L117,455.4L117.5,455.6L118,455.8L118.5,456.1L119,456.3L119.5,456.5L120,456.7L120.5,456.8L121,457.0L121.5,457.2L122,457.4L122.5,457.6L123,457.8L123.5,458.0L124,458.1L124.5,458.3L125,458.5L125.5,458.7L126,458.8L126.5,459.0L127,459.2L127.5,459.3L128,459.5L128.5,459.7L129,459.8L129.5,460.0L130,460.1L130.5,460.3L131,460.4L131.5,460.5L132,460.7L132.5,460.8L133,461.0L133.5,461.1L134,461.3L134.5,461.4L135,461.5L135.5,461.7L136,461.8L136.5,462.0L137,462.1L137.5,462.3L138,462.4L138.5,462.6L139,462.8L139.5,462.9L140,463.1L140.5,463.3L141,463.4L141.5,463.6L142,463.7L142.5,463.9L143,464.0L143.5,464.2L144,464.3L144.5,464.4L145,464.5L145.5,464.6L146,464.7L146.5,464.8L147,464.8L147.5,464.9L148,464.9L148.5,464.9L149,464.9L149.5,465.0L150,465.0L150.5,465.0L151,465.0L151.5,465.0L152,465.0L152.5,465.0L153,465.0L153.5,465.0L154,465.0L154.5,465.1L155,465.1L155.5,465.1L156,465.1L156.5,465.1L157,465.1L157.5,465.1L158,465.1L158.5,465.1L159,465.1L159.5,465.1L160,465.2L160.5,465.2L161,465.2L161.5,465.2L162,465.2L162.5,465.3L163,465.4L163.5,465.5L164,465.6L164.5,465.7L165,465.9L165.5,466.0L166,466.2L166.5,466.4L167,466.6L167.5,466.8L168,467.0L168.5,467.2L169,467.4L169.5,467.7L170,467.9L170.5,468.1L171,468.4L171.5,468.6L172,468.8L172.5,469.0L173,469.2L173.5,469.4L174,469.6L174.5,469.8L175,470.0L175.5,470.2L176,470.3L176.5,470.5L177,470.6L177.5,470.7L178,470.8L178.5,470.9L179,471.0L179.5,471.0L180,471.0L180.5,471.0L181,470.9L181.5,470.8L182,470.7L182.5,470.5L183,470.4L183.5,470.1L184,469.9L184.5,469.7L185,469.4L185.5,469.2L186,468.9L186.5,468.7L187,468.4L187.5,468.1L188,467.9L188.5,467.6L189,467.4L189.5,467.1L190,466.8L190.5,466.5L191,466.2L191.5,465.9L192,465.6L192.5,465.2L193,464.9L193.5,464.5L194,464.2L194.5,463.8L195,463.4L195.5,463.0L196,462.6L196.5,462.6L197,463.8L197.5,465.1L198,466.3L198.5,467.5L199,468.5L199.5,469.5L200,470.4L200.5,471.2L201,471.7L201.5,472.1L202,472.5L202.5,472.8L203,473.1L203.5,473.4L204,473.6L204.5,473.9L205,474.1L205.5,474.3L206,474.4L206.5,474.6L207,474.8L207.5,474.9L208,475.1L208.5,475.3L209,475.4L209.5,475.6L210,475.8L210.5,476.0L211,476.2L211.5,476.4L212,476.7L212.5,476.9L213,477.1L213.5,477.4L214,477.6L214.5,477.8L215,478.1L215.5,478.3L216,478.5L216.5,478.7L217,478.9L217.5,479.1L218,479.3L218.5,479.5L219,479.6L219.5,479.8L220,479.9L220.5,480.0L221,480.1L221.5,480.1L222,480.2L222.5,480.3L223,480.4L223.5,480.5L224,480.5L224.5,480.6L225,480.7L225.5,480.7L226,480.8L226.5,480.8L227,480.9L227.5,481.0L228,481.0L228.5,481.0L229,481.1L229.5,481.1L230,481.1L230.5,481.2L231,481.2L231.5,481.2L232,481.2L232.5,481.2L233,481.0L233.5,480.8L234,480.4L234.5,479.9L235,479.4L235.5,478.8L236,478.3L236.5,478.9L237,480.2L237.5,481.4L238,482.3L238.5,483.0L239,483.6L239.5,484.1L240,484.6L240.5,485.0L241,485.4L241.5,485.8L242,486.2L242.5,486.5L243,486.8L243.5,487.1L244,487.4L244.5,487.6L245,487.9L245.5,488.1L246,488.4L246.5,488.6L247,488.8L247.5,489.1L248,489.3L248.5,489.5L249,489.7L249.5,489.8L250,490.0L250.5,490.2L251,490.4L251.5,490.5L252,490.7L252.5,490.9L253,491.0L253.5,491.2L254,491.3L254.5,491.5L255,491.6L255.5,491.8L256,491.9L256.5,492.1L257,492.2L257.5,492.4L258,492.5L258.5,492.7L259,492.8L259.5,493.0L260,493.1L260.5,493.3L261,493.5L261.5,493.6L262,493.8L262.5,494.0L263,494.2L263.5,494.4L264,494.6L264.5,494.8L265,495.0L265.5,495.2L266,495.4L266.5,495.5L267,495.7L267.5,495.9L268,496.1L268.5,496.3L269,496.4L269.5,496.6L270,496.7L270.5,496.9L271,497.0L271.5,497.1L272,497.2L272.5,497.3L273,497.4L273.5,497.5L274,497.5L274.5,497.6L275,497.6L275.5,497.6L276,497.6L276.5,497.7L277,497.7L277.5,497.7L278,497.7L278.5,497.7L279,497.7L279.5,497.7L280,497.8L280.5,497.8L281,497.8L281.5,497.8L282,497.8L282.5,497.8L283,497.8L283.5,497.8L284,497.7L284.5,497.7L285,497.7L285.5,497.7L286,497.7L286.5,497.6L287,497.6L287.5,497.5L288,497.4L288.5,497.3L289,497.1L289.5,496.9L290,496.7L290.5,496.5L291,496.3L291.5,496.0L292,495.8L292.5,495.5L293,495.2L293.5,494.8L294,494.3L294.5,493.7L295,492.8L295.5,491.7L296,490.3L296.5,488.6L297,486.9L297.5,485.3L298,484.5L298.5,484.9L299,486.4L299.5,488.6L300,490.9L300.5,493.0L301,494.8L301.5,496.2L302,497.4L302.5,498.3L303,499.0L303.5,499.5L304,500.0L304.5,500.4L305,500.7L305.5,501.0L306,501.3L306.5,501.5L307,501.7L307.5,502.0L308,502.1L308.5,502.3L309,502.5L309.5,502.6L310,502.8L310.5,502.9L311,503.0L311.5,503.1L312,503.2L312.5,503.3L313,503.4L313.5,503.4L314,503.5L314.5,503.5L315,503.6L315.5,503.6L316,503.7L316.5,503.7L317,503.7L317.5,503.8L318,503.8L318.5,503.8L319,503.8L319.5,503.9L320,503.9L320.5,503.9L321,503.9L321.5,503.9L322,503.9L322.5,503.9L323,503.9L323.5,503.9L324,503.9L324.5,503.8L325,503.8L325.5,503.7L326,503.6L326.5,503.5L327,503.3L327.5,503.1L328,502.8L328.5,502.5L329,502.0L329.5,501.4L330,500.6L330.5,499.7L331,498.6L331.5,497.4L332,496.1L332.5,494.8L333,493.9L333.5,493.5L334,493.7L334.5,494.4L335,495.4L335.5,496.3L336,497.2L336.5,497.7L337,498.0L337.5,497.9L338,497.6L338.5,497.0L339,496.5L339.5,496.2L340,496.3L340.5,496.9L341,497.9L341.5,499.1L342,500.3L342.5,501.4L343,502.3L343.5,503.1L344,503.7L344.5,504.2L345,504.7L345.5,505.0L346,505.3L346.5,505.5L347,505.7L347.5,505.9L348,506.0L348.5,506.1L349,506.3L349.5,506.4L350,506.5L350.5,506.6L351,506.7L351.5,506.8L352,506.9L352.5,507.0L353,507.1L353.5,507.2L354,507.3L354.5,507.4L355,507.5L355.5,507.6L356,507.6L356.5,507.7L357,507.8L357.5,507.8L358,507.9L358.5,508.0L359,508.0L359.5,508.1L360,508.1L360.5,508.1L361,508.2L361.5,508.2L362,508.2L362.5,508.2L363,508.2L363.5,508.2L364,508.2L364.5,508.1L365,508.1L365.5,508.1L366,508.0L366.5,508.0L367,507.9L367.5,507.9L368,507.8L368.5,507.7L369,507.7L369.5,507.6L370,507.5L370.5,507.4L371,507.3L371.5,507.2L372,507.1L372.5,507.0L373,506.9L373.5,506.7L374,506.6L374.5,506.4L375,506.2L375.5,506.0L376,505.7L376.5,505.4L377,504.9L377.5,504.3L378,503.6L378.5,502.5L379,501.2L379.5,499.3L380,497.0L380.5,494.2L381,491.1L381.5,488.2L382,486.6L382.5,486.8L383,488.8L383.5,491.7L384,494.8L384.5,497.5L385,499.7L385.5,501.3L386,502.6L386.5,503.4L387,504.0L387.5,504.3L388,504.3L388.5,504.1L389,503.7L389.5,502.9L390,501.7L390.5,500.0L391,497.9L391.5,495.3L392,492.7L392.5,490.5L393,489.8L393.5,490.9L394,493.3L394.5,496.3L395,499.2L395.5,501.7L396,503.7L396.5,505.2L397,506.4L397.5,507.4L398,508.1L398.5,508.6L399,509.0L399.5,509.4L400,509.7L400.5,510.0L401,510.3L401.5,510.5L402,510.7L402.5,510.9L403,511.1L403.5,511.3L404,511.5L404.5,511.7L405,511.9L405.5,512.0L406,512.2L406.5,512.4L407,512.5L407.5,512.7L408,512.8L408.5,513.0L409,513.1L409.5,513.2L410,513.4L410.5,513.5L411,513.6L411.5,513.7L412,513.9L412.5,514.0L413,514.1L413.5,514.2L414,514.3L414.5,514.4L415,514.4L415.5,514.5L416,514.6L416.5,514.6L417,514.6L417.5,514.6L418,514.6L418.5,514.6L419,514.6L419.5,514.4L420,514.2L420.5,513.8L421,513.1L421.5,512.2L422,511.0L422.5,509.9L423,509.4L423.5,510.0L424,511.3L424.5,512.6L425,513.7L425.5,514.5L426,515.0L426.5,515.4L427,515.7L427.5,515.9L428,516.1L428.5,516.2L429,516.3L429.5,516.4L430,516.5L430.5,516.6L431,516.7L431.5,516.8L432,516.9L432.5,516.9L433,517.0L433.5,517.1L434,517.1L434.5,517.2L435,517.2L435.5,517.3L436,517.3L436.5,517.4L437,517.4L437.5,517.5L438,517.5L438.5,517.6L439,517.6L439.5,517.6L440,517.7L440.5,517.7L441,517.8L441.5,517.8L442,517.8L442.5,517.8L443,517.9L443.5,517.9L444,517.9L444.5,517.9L445,518.0L445.5,518.0L446,518.0"/>
<path d="M48.0,433.9L48.5,434.2L49,434.6L49.5,434.9L50,435.3L50.5,435.7L51,436.1L51.5,436.5L52,436.9L52.5,437.3L53,437.7L53.5,438.2L54,438.6L54.5,439.1L55,439.6L55.5,440.1L56,440.5L56.5,441.0L57,441.5L57.5,442.1L58,442.6L58.5,443.1L59,443.6L59.5,444.2L60,444.7L60.5,445.3L61,445.8L61.5,446.5L62,447.2L62.5,448.0L63,448.8L63.5,449.7L64,450.6L64.5,451.5L65,452.4L65.5,453.4L66,454.3L66.5,455.2L67,456.1L67.5,456.9L68,457.7L68.5,458.4L69,459.0L69.5,459.6L70,460.0L70.5,460.3L71,460.5L71.5,460.6L72,460.6L72.5,460.5L73,460.5L73.5,460.3L74,460.1L74.5,459.9L75,459.6L75.5,459.3L76,459.5L76.5,460.8L77,462.0L77.5,463.2L78,464.4L78.5,465.6L79,466.7L79.5,467.8L80,468.8L80.5,469.8L81,470.6L81.5,471.4L82,472.1L82.5,472.8L83,473.4L83.5,474.0L84,474.6L84.5,475.2L85,475.8L85.5,476.4L86,477.0L86.5,477.5L87,478.1L87.5,478.6L88,479.1L88.5,479.6L89,480.1L89.5,480.5L90,480.9L90.5,481.3L91,481.6L91.5,481.9L92,482.2L92.5,482.4L93,482.6L93.5,482.8L94,482.9L94.5,483.0L95,483.0L95.5,483.5L96,484.0L96.5,484.5L97,485.0L97.5,485.5L98,485.9L98.5,486.4L99,486.9L99.5,487.4L100,487.8L100.5,488.3L101,488.7L101.5,489.2L102,489.6L102.5,490.1L103,490.5L103.5,490.9L104,491.3L104.5,491.7L105,492.2L105.5,492.6L106,493.0L106.5,493.3L107,493.7L107.5,494.1L108,494.5L108.5,494.8L109,495.2L109.5,495.6L110,495.9L110.5,496.2L111,496.6L111.5,496.9L112,497.2L112.5,497.6L113,497.9L113.5,498.2L114,498.6L114.5,498.9L115,499.2L115.5,499.5L116,499.8L116.5,500.1L117,500.4L117.5,500.7L118,501.0L118.5,501.3L119,501.6L119.5,501.8L120,502.1L120.5,502.4L121,502.6L121.5,502.9L122,503.1L122.5,503.3L123,503.6L123.5,503.8L124,504.0L124.5,504.2L125,504.4L125.5,504.6L126,504.8L126.5,504.9L127,505.1L127.5,505.3L128,505.4L128.5,505.6L129,505.7L129.5,505.9L130,506.0L130.5,506.2L131,506.3L131.5,506.4L132,506.6L132.5,506.7L133,506.8L133.5,507.0L134,507.1L134.5,507.3L135,507.4L135.5,507.6L136,507.7L136.5,507.9L137,508.1L137.5,508.3L138,508.5L138.5,508.7L139,508.9L139.5,509.1L140,509.3L140.5,509.5L141,509.7L141.5,509.9L142,510.1L142.5,510.3L143,510.5L143.5,510.7L144,510.8L144.5,511.0L145,511.1L145.5,511.2L146,511.3L146.5,511.4L147,511.5L147.5,511.5L148,511.5L148.5,511.5L149,511.5L149.5,511.5L150,511.5L150.5,511.5L151,511.5L151.5,511.5L152,511.5L152.5,511.5L153,511.5L153.5,511.5L154,511.5L154.5,511.5L155,511.4L155.5,511.4L156,511.4L156.5,511.4L157,511.4L157.5,511.4L158,511.4L158.5,511.4L159,511.4L159.5,511.4L160,511.4L160.5,511.4L161,511.4L161.5,511.4L162,511.4L162.5,511.4L163,511.5L163.5,511.5L164,511.6L164.5,511.8L165,511.9L165.5,512.1L166,512.3L166.5,512.5L167,512.7L167.5,512.9L168,513.1L168.5,513.4L169,513.6L169.5,513.9L170,514.1L170.5,514.3L171,514.6L171.5,514.8L172,515.1L172.5,515.3L173,515.5L173.5,515.7L174,515.9L174.5,516.1L175,516.2L175.5,516.4L176,516.5L176.5,516.6L177,516.7L177.5,516.7L178,516.7L178.5,516.7L179,516.6L179.5,516.5L180,516.4L180.5,516.3L181,516.1L181.5,516.0L182,515.8L182.5,515.6L183,515.3L183.5,515.1L184,514.9L184.5,514.6L185,514.3L185.5,514.1L186,513.8L186.5,513.5L187,513.2L187.5,513.0L188,512.7L188.5,512.5L189,512.2L189.5,511.9L190,511.6L190.5,511.3L191,511.0L191.5,510.7L192,510.4L192.5,510.1L193,509.7L193.5,509.4L194,509.0L194.5,508.6L195,508.3L195.5,507.9L196,507.5L196.5,508.7L197,509.8L197.5,510.9L198,512.0L198.5,513.0L199,514.0L199.5,514.9L200,515.7L200.5,516.4L201,517.1L201.5,517.7L202,518.1L202.5,518.5L203,518.7L203.5,518.8L204,518.8L204.5,518.7L205,518.7L205.5,518.6L206,518.5L206.5,518.3L207,518.2L207.5,518.0L208,517.9L208.5,517.8L209,517.7L209.5,517.5L210,517.5L210.5,517.4L211,517.4L211.5,517.4L212,517.5L212.5,517.6L213,517.8L213.5,518.0L214,518.3L214.5,518.6L215,518.8L215.5,519.2L216,519.5L216.5,519.8L217,520.1L217.5,520.4L218,520.7L218.5,521.0L219,521.3L219.5,521.5L220,521.7L220.5,521.8L221,521.9L221.5,522.0L222,522.0L222.5,522.0L223,521.9L223.5,521.9L224,521.8L224.5,521.7L225,521.6L225.5,521.5L226,521.4L226.5,521.3L227,521.2L227.5,521.1L228,520.9L228.5,520.8L229,520.7L229.5,520.5L230,520.4L230.5,520.2L231,520.1L231.5,520.0L232,519.8L232.5,519.6L233,519.4L233.5,519.2L234,519.0L234.5,518.8L235,518.6L235.5,518.4L236,518.2L236.5,518.7L237,519.1L237.5,519.6L238,520.0L238.5,520.4L239,520.8L239.5,521.2L240,521.5L240.5,521.8L241,522.1L241.5,522.4L242,522.7L242.5,523.0L243,523.3L243.5,523.5L244,523.8L244.5,524.0L245,524.3L245.5,524.5L246,524.7L246.5,524.9L247,525.1L247.5,525.3L248,525.5L248.5,525.7L249,525.9L249.5,526.0L250,526.2L250.5,526.4L251,526.6L251.5,526.7L252,526.9L252.5,527.1L253,527.2L253.5,527.4L254,527.5L254.5,527.7L255,527.9L255.5,528.0L256,528.2L256.5,528.3L257,528.5L257.5,528.6L258,528.7L258.5,528.9L259,529.0L259.5,529.2L260,529.3L260.5,529.4L261,529.6L261.5,529.7L262,529.8L262.5,530.0L263,530.1L263.5,530.2L264,530.3L264.5,530.5L265,530.6L265.5,530.7L266,530.8L266.5,530.9L267,531.0L267.5,531.1L268,531.2L268.5,531.4L269,531.5L269.5,531.6L270,531.7L270.5,531.8L271,531.9L271.5,532.0L272,532.0L272.5,532.1L273,532.2L273.5,532.3L274,532.4L274.5,532.5L275,532.6L275.5,532.7L276,532.7L276.5,532.8L277,532.9L277.5,532.9L278,533.0L278.5,533.1L279,533.1L279.5,533.2L280,533.2L280.5,533.3L281,533.3L281.5,533.4L282,533.4L282.5,533.5L283,533.5L283.5,533.6L284,533.6L284.5,533.6L285,533.7L285.5,533.7L286,533.8L286.5,533.8L287,533.8L287.5,533.9L288,533.9L288.5,533.9L289,534.0L289.5,534.0L290,534.0L290.5,534.0L291,534.0L291.5,533.9L292,533.8L292.5,533.7L293,533.4L293.5,533.1L294,532.6L294.5,531.9L295,530.9L295.5,529.7L296,528.0L296.5,526.1L297,524.0L297.5,522.1L298,521.1L298.5,521.3L299,522.8L299.5,524.9L300,527.2L300.5,529.2L301,531.0L301.5,532.4L302,533.4L302.5,534.3L303,534.9L303.5,535.3L304,535.7L304.5,536.0L305,536.2L305.5,536.3L306,536.5L306.5,536.6L307,536.7L307.5,536.8L308,536.8L308.5,536.9L309,536.9L309.5,537.0L310,537.0L310.5,537.1L311,537.1L311.5,537.1L312,537.1L312.5,537.2L313,537.2L313.5,537.2L314,537.2L314.5,537.2L315,537.2L315.5,537.2L316,537.2L316.5,537.2L317,537.2L317.5,537.2L318,537.2L318.5,537.2L319,537.2L319.5,537.2L320,537.2L320.5,537.1L321,537.1L321.5,537.1L322,537.1L322.5,537.0L323,537.0L323.5,536.9L324,536.9L324.5,536.8L325,536.8L325.5,536.7L326,536.6L326.5,536.4L327,536.3L327.5,536.1L328,535.8L328.5,535.4L329,535.0L329.5,534.4L330,533.7L330.5,532.8L331,531.7L331.5,530.5L332,529.3L332.5,528.1L333,527.2L333.5,526.8L334,527.0L334.5,527.7L335,528.7L335.5,529.7L336,530.5L336.5,531.1L337,531.4L337.5,531.5L338,531.2L338.5,530.8L339,530.4L339.5,530.1L340,530.3L340.5,530.8L341,531.8L341.5,532.9L342,533.9L342.5,534.9L343,535.8L343.5,536.5L344,537.0L344.5,537.5L345,537.8L345.5,538.1L346,538.4L346.5,538.6L347,538.7L347.5,538.9L348,539.0L348.5,539.1L349,539.2L349.5,539.3L350,539.4L350.5,539.4L351,539.5L351.5,539.5L352,539.6L352.5,539.7L353,539.7L353.5,539.7L354,539.8L354.5,539.8L355,539.9L355.5,539.9L356,539.9L356.5,539.9L357,540.0L357.5,540.0L358,540.0L358.5,540.0L359,540.1L359.5,540.1L360,540.1L360.5,540.1L361,540.1L361.5,540.2L362,540.2L362.5,540.2L363,540.2L363.5,540.2L364,540.2L364.5,540.2L365,540.2L365.5,540.2L366,540.2L366.5,540.2L367,540.2L367.5,540.2L368,540.2L368.5,540.2L369,540.2L369.5,540.1L370,540.1L370.5,540.1L371,540.0L371.5,540.0L372,539.9L372.5,539.8L373,539.7L373.5,539.6L374,539.5L374.5,539.3L375,539.1L375.5,538.9L376,538.6L376.5,538.2L377,537.7L377.5,537.0L378,536.0L378.5,534.8L379,533.1L379.5,530.8L380,528.1L380.5,525.0L381,521.8L381.5,519.5L382,518.8L382.5,520.2L383,522.9L383.5,526.1L384,529.0L384.5,531.4L385,533.3L385.5,534.8L386,535.8L386.5,536.4L387,536.9L387.5,537.1L388,537.1L388.5,536.9L389,536.6L389.5,535.9L390,535.0L390.5,533.6L391,531.8L391.5,529.5L392,526.8L392.5,524.1L393,522.1L393.5,521.7L394,523.0L394.5,525.5L395,528.4L395.5,531.1L396,533.4L396.5,535.2L397,536.6L397.5,537.7L398,538.5L398.5,539.1L399,539.6L399.5,539.9L400,540.3L400.5,540.5L401,540.8L401.5,541.0L402,541.2L402.5,541.4L403,541.6L403.5,541.7L404,541.9L404.5,542.1L405,542.2L405.5,542.4L406,542.5L406.5,542.7L407,542.8L407.5,543.0L408,543.1L408.5,543.2L409,543.4L409.5,543.5L410,543.6L410.5,543.8L411,543.9L411.5,544.0L412,544.1L412.5,544.2L413,544.3L413.5,544.4L414,544.4L414.5,544.5L415,544.6L415.5,544.6L416,544.7L416.5,544.7L417,544.8L417.5,544.8L418,544.8L418.5,544.7L419,544.7L419.5,544.5L420,544.2L420.5,543.8L421,543.1L421.5,542.1L422,540.8L422.5,539.5L423,539.0L423.5,539.7L424,541.0L424.5,542.5L425,543.6L425.5,544.4L426,545.0L426.5,545.4L427,545.7L427.5,545.9L428,546.0L428.5,546.2L429,546.3L429.5,546.4L430,546.5L430.5,546.5L431,546.6L431.5,546.7L432,546.7L432.5,546.8L433,546.9L433.5,546.9L434,547.0L434.5,547.0L435,547.1L435.5,547.1L436,547.1L436.5,547.2L437,547.2L437.5,547.3L438,547.3L438.5,547.3L439,547.4L439.5,547.4L440,547.4L440.5,547.5L441,547.5L441.5,547.5L442,547.5L442.5,547.6L443,547.6L443.5,547.6L444,547.6L444.5,547.7L445,547.7L445.5,547.7L446,547.7"/>
<path d="M48.0,484.3L48.5,484.6L49,485.0L49.5,485.3L50,485.7L50.5,486.1L51,486.4L51.5,486.8L52,487.3L52.5,487.7L53,488.1L53.5,488.5L54,489.0L54.5,489.5L55,489.9L55.5,490.4L56,490.9L56.5,491.4L57,491.9L57.5,492.4L58,492.9L58.5,493.4L59,493.9L59.5,494.5L60,495.0L60.5,495.6L61,496.1L61.5,496.8L62,497.5L62.5,498.2L63,499.1L63.5,499.9L64,500.8L64.5,501.8L65,502.7L65.5,503.6L66,504.6L66.5,505.5L67,506.3L67.5,507.1L68,507.9L68.5,508.6L69,509.2L69.5,509.8L70,510.2L70.5,510.5L71,510.7L71.5,510.8L72,510.8L72.5,510.7L73,510.7L73.5,510.5L74,510.3L74.5,510.1L75,509.8L75.5,509.5L76,509.7L76.5,510.9L77,512.1L77.5,513.3L78,514.4L78.5,515.5L79,516.6L79.5,517.7L80,518.7L80.5,519.6L81,520.5L81.5,521.3L82,522.1L82.5,522.8L83,523.5L83.5,524.2L84,524.9L84.5,525.6L85,526.2L85.5,526.9L86,527.5L86.5,528.1L87,528.7L87.5,529.3L88,529.9L88.5,530.5L89,531.0L89.5,531.5L90,532.0L90.5,532.5L91,532.9L91.5,533.3L92,533.7L92.5,534.0L93,534.3L93.5,534.6L94,534.8L94.5,535.0L95,535.2L95.5,535.7L96,536.3L96.5,536.8L97,537.3L97.5,537.9L98,538.4L98.5,538.9L99,539.4L99.5,539.9L100,540.4L100.5,540.9L101,541.4L101.5,541.9L102,542.4L102.5,542.8L103,543.3L103.5,543.7L104,544.2L104.5,544.6L105,545.1L105.5,545.5L106,545.9L106.5,546.3L107,546.7L107.5,547.1L108,547.5L108.5,547.9L109,548.3L109.5,548.6L110,549.0L110.5,549.4L111,549.7L111.5,550.0L112,550.4L112.5,550.7L113,551.1L113.5,551.4L114,551.7L114.5,552.0L115,552.4L115.5,552.7L116,553.0L116.5,553.3L117,553.6L117.5,553.9L118,554.2L118.5,554.5L119,554.8L119.5,555.0L120,555.3L120.5,555.6L121,555.8L121.5,556.1L122,556.3L122.5,556.5L123,556.8L123.5,557.0L124,557.2L124.5,557.4L125,557.6L125.5,557.8L126,558.0L126.5,558.1L127,558.3L127.5,558.5L128,558.6L128.5,558.8L129,558.9L129.5,559.0L130,559.2L130.5,559.3L131,559.4L131.5,559.6L132,559.7L132.5,559.8L133,560.0L133.5,560.1L134,560.3L134.5,560.4L135,560.6L135.5,560.8L136,560.9L136.5,561.1L137,561.4L137.5,561.6L138,561.9L138.5,562.1L139,562.4L139.5,562.7L140,562.9L140.5,563.2L141,563.5L141.5,563.8L142,564.0L142.5,564.3L143,564.6L143.5,564.8L144,565.0L144.5,565.2L145,565.4L145.5,565.6L146,565.7L146.5,565.8L147,565.9L147.5,566.0L148,566.0L148.5,566.0L149,566.0L149.5,566.0L150,566.0L150.5,566.0L151,566.0L151.5,566.0L152,566.0L152.5,566.0L153,566.0L153.5,566.0L154,566.0L154.5,566.0L155,565.9L155.5,565.9L156,565.9L156.5,565.9L157,565.9L157.5,565.9L158,565.9L158.5,565.9L159,565.9L159.5,565.9L160,565.9L160.5,565.9L161,565.9L161.5,565.9L162,565.9L162.5,565.9L163,566.0L163.5,566.0L164,566.1L164.5,566.2L165,566.4L165.5,566.5L166,566.7L166.5,566.9L167,567.1L167.5,567.3L168,567.5L168.5,567.7L169,567.9L169.5,568.2L170,568.4L170.5,568.6L171,568.9L171.5,569.1L172,569.3L172.5,569.5L173,569.7L173.5,569.9L174,570.1L174.5,570.2L175,570.4L175.5,570.5L176,570.6L176.5,570.7L177,570.8L177.5,570.8L178,570.8L178.5,570.8L179,570.7L179.5,570.6L180,570.5L180.5,570.3L181,570.2L181.5,570.0L182,569.7L182.5,569.5L183,569.2L183.5,569.0L184,568.7L184.5,568.4L185,568.1L185.5,567.8L186,567.5L186.5,567.2L187,566.9L187.5,566.6L188,566.2L188.5,566.0L189,565.7L189.5,565.4L190,565.0L190.5,564.7L191,564.4L191.5,564.0L192,563.7L192.5,563.3L193,562.9L193.5,562.5L194,562.1L194.5,561.7L195,561.3L195.5,560.9L196,560.5L196.5,561.6L197,562.7L197.5,563.7L198,564.7L198.5,565.6L199,566.5L199.5,567.3L200,568.1L200.5,568.7L201,569.3L201.5,569.8L202,570.2L202.5,570.5L203,570.7L203.5,570.8L204,570.8L204.5,570.7L205,570.5L205.5,570.3L206,570.1L206.5,569.8L207,569.6L207.5,569.3L208,569.0L208.5,568.7L209,568.5L209.5,568.3L210,568.1L210.5,568.0L211,568.0L211.5,568.0L212,568.1L212.5,568.2L213,568.3L213.5,568.4L214,568.6L214.5,568.8L215,569.0L215.5,569.2L216,569.4L216.5,569.7L217,569.9L217.5,570.1L218,570.3L218.5,570.5L219,570.7L219.5,570.9L220,571.0L220.5,571.1L221,571.2L221.5,571.2L222,571.2L222.5,571.2L223,571.1L223.5,571.1L224,571.0L224.5,570.9L225,570.8L225.5,570.7L226,570.5L226.5,570.4L227,570.2L227.5,570.1L228,569.9L228.5,569.7L229,569.5L229.5,569.3L230,569.1L230.5,568.9L231,568.7L231.5,568.4L232,568.0L232.5,567.7L233,567.3L233.5,566.8L234,566.4L234.5,565.9L235,565.4L235.5,564.9L236,564.4L236.5,564.8L237,565.2L237.5,565.5L238,565.9L238.5,566.2L239,566.5L239.5,566.8L240,567.0L240.5,567.2L241,567.4L241.5,567.6L242,567.8L242.5,568.0L243,568.2L243.5,568.4L244,568.6L244.5,568.7L245,568.9L245.5,569.0L246,569.1L246.5,569.2L247,569.3L247.5,569.4L248,569.5L248.5,569.6L249,569.6L249.5,569.7L250,569.7L250.5,569.8L251,569.8L251.5,569.9L252,570.0L252.5,570.0L253,570.1L253.5,570.1L254,570.2L254.5,570.2L255,570.3L255.5,570.3L256,570.3L256.5,570.4L257,570.4L257.5,570.5L258,570.5L258.5,570.6L259,570.6L259.5,570.6L260,570.7L260.5,570.7L261,570.7L261.5,570.8L262,570.8L262.5,570.8L263,570.9L263.5,570.9L264,570.9L264.5,571.0L265,571.0L265.5,571.0L266,571.0L266.5,571.0L267,571.1L267.5,571.1L268,571.1L268.5,571.1L269,571.1L269.5,571.1L270,571.2L270.5,571.2L271,571.2L271.5,571.2L272,571.2L272.5,571.2L273,571.2L273.5,571.2L274,571.2L274.5,571.2L275,571.2L275.5,571.2L276,571.2L276.5,571.2L277,571.2L277.5,571.1L278,571.1L278.5,571.0L279,571.0L279.5,570.9L280,570.8L280.5,570.8L281,570.7L281.5,570.6L282,570.6L282.5,570.5L283,570.4L283.5,570.3L284,570.3L284.5,570.2L285,570.1L285.5,570.1L286,570.0L286.5,570.0L287,570.0L287.5,569.9L288,569.9L288.5,569.8L289,569.7L289.5,569.7L290,569.6L290.5,569.5L291,569.4L291.5,569.2L292,569.0L292.5,568.8L293,568.5L293.5,568.1L294,567.6L294.5,566.9L295,565.9L295.5,564.7L296,563.2L296.5,561.4L297,559.5L297.5,557.8L298,556.8L298.5,556.9L299,558.1L299.5,559.9L300,561.8L300.5,563.5L301,564.9L301.5,566.1L302,567.0L302.5,567.6L303,568.1L303.5,568.5L304,568.8L304.5,569.0L305,569.1L305.5,569.3L306,569.4L306.5,569.5L307,569.5L307.5,569.6L308,569.6L308.5,569.7L309,569.7L309.5,569.8L310,569.8L310.5,569.8L311,569.8L311.5,569.8L312,569.8L312.5,569.9L313,569.9L313.5,569.9L314,569.9L314.5,569.9L315,569.9L315.5,569.9L316,569.9L316.5,569.8L317,569.8L317.5,569.8L318,569.8L318.5,569.8L319,569.8L319.5,569.7L320,569.7L320.5,569.7L321,569.7L321.5,569.6L322,569.6L322.5,569.5L323,569.5L323.5,569.4L324,569.3L324.5,569.3L325,569.2L325.5,569.1L326,568.9L326.5,568.8L327,568.6L327.5,568.3L328,568.0L328.5,567.6L329,567.1L329.5,566.5L330,565.7L330.5,564.8L331,563.6L331.5,562.4L332,561.0L332.5,559.8L333,558.8L333.5,558.4L334,558.6L334.5,559.3L335,560.3L335.5,561.3L336,562.1L336.5,562.7L337,563.0L337.5,563.0L338,562.8L338.5,562.3L339,561.8L339.5,561.6L340,561.7L340.5,562.2L341,563.1L341.5,564.2L342,565.3L342.5,566.2L343,567.0L343.5,567.7L344,568.2L344.5,568.7L345,569.0L345.5,569.3L346,569.5L346.5,569.7L347,569.8L347.5,569.9L348,570.0L348.5,570.1L349,570.1L349.5,570.2L350,570.2L350.5,570.3L351,570.3L351.5,570.3L352,570.3L352.5,570.4L353,570.4L353.5,570.4L354,570.4L354.5,570.4L355,570.4L355.5,570.4L356,570.4L356.5,570.4L357,570.3L357.5,570.3L358,570.3L358.5,570.3L359,570.3L359.5,570.3L360,570.2L360.5,570.2L361,570.2L361.5,570.2L362,570.1L362.5,570.1L363,570.1L363.5,570.1L364,570.1L364.5,570.0L365,570.0L365.5,570.0L366,569.9L366.5,569.9L367,569.9L367.5,569.8L368,569.8L368.5,569.8L369,569.7L369.5,569.7L370,569.6L370.5,569.5L371,569.5L371.5,569.4L372,569.3L372.5,569.2L373,569.1L373.5,569.0L374,568.8L374.5,568.6L375,568.4L375.5,568.2L376,567.9L376.5,567.5L377,566.9L377.5,566.3L378,565.3L378.5,564.1L379,562.4L379.5,560.3L380,557.7L380.5,554.7L381,551.7L381.5,549.5L382,548.8L382.5,550.1L383,552.6L383.5,555.6L384,558.3L384.5,560.6L385,562.4L385.5,563.7L386,564.6L386.5,565.3L387,565.6L387.5,565.8L388,565.8L388.5,565.6L389,565.2L389.5,564.6L390,563.7L390.5,562.4L391,560.6L391.5,558.4L392,555.9L392.5,553.3L393,551.4L393.5,550.9L394,552.1L394.5,554.5L395,557.2L395.5,559.7L396,561.9L396.5,563.6L397,564.9L397.5,565.8L398,566.6L398.5,567.1L399,567.5L399.5,567.8L400,568.1L400.5,568.3L401,568.5L401.5,568.6L402,568.8L402.5,568.9L403,569.1L403.5,569.2L404,569.3L404.5,569.4L405,569.5L405.5,569.6L406,569.7L406.5,569.8L407,569.9L407.5,569.9L408,570.0L408.5,570.1L409,570.2L409.5,570.3L410,570.3L410.5,570.4L411,570.5L411.5,570.5L412,570.6L412.5,570.6L413,570.7L413.5,570.7L414,570.8L414.5,570.8L415,570.8L415.5,570.9L416,570.9L416.5,570.9L417,570.9L417.5,570.9L418,570.9L418.5,570.8L419,570.8L419.5,570.6L420,570.4L420.5,570.0L421,569.4L421.5,568.5L422,567.4L422.5,566.4L423,565.9L423.5,566.4L424,567.6L424.5,568.7L425,569.7L425.5,570.3L426,570.8L426.5,571.1L427,571.3L427.5,571.5L428,571.6L428.5,571.7L429,571.7L429.5,571.8L430,571.8L430.5,571.9L431,571.9L431.5,571.9L432,572.0L432.5,572.0L433,572.0L433.5,572.1L434,572.1L434.5,572.1L435,572.1L435.5,572.1L436,572.1L436.5,572.2L437,572.2L437.5,572.2L438,572.2L438.5,572.2L439,572.2L439.5,572.2L440,572.2L440.5,572.2L441,572.3L441.5,572.3L442,572.3L442.5,572.3L443,572.3L443.5,572.3L444,572.3L444.5,572.3L445,572.3L445.5,572.3L446,572.3"/>
</g>
</svg></body></html>
